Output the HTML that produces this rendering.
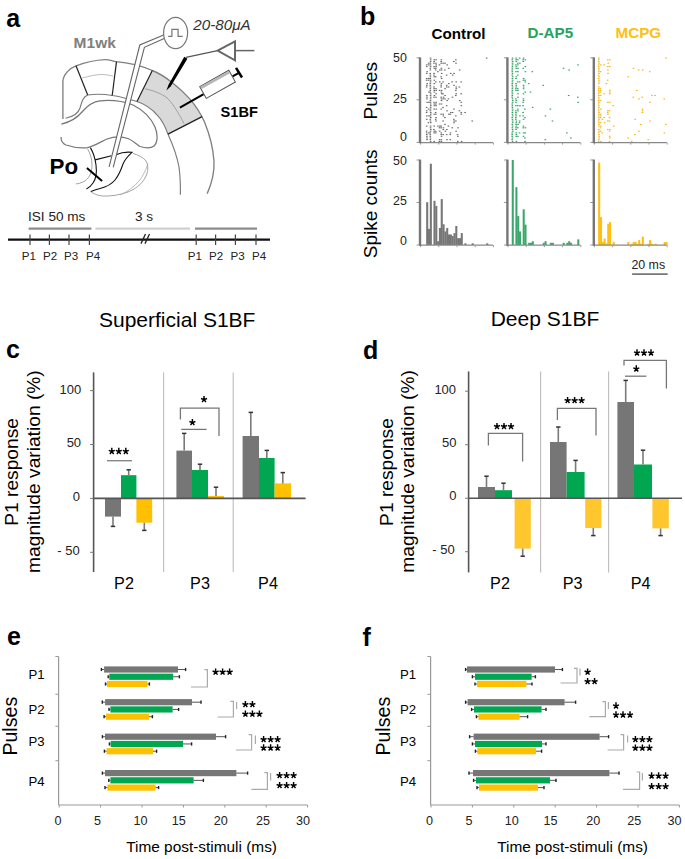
<!DOCTYPE html>
<html><head><meta charset="utf-8"><style>
html,body{margin:0;padding:0;background:#fff;}
svg{display:block;font-family:"Liberation Sans", sans-serif;}
</style></head><body>
<svg width="685" height="859" viewBox="0 0 685 859">
<rect width="685" height="859" fill="#fff"/>
<text x="6.00" y="358.00" font-size="25" font-weight="bold" font-style="normal" fill="#000" text-anchor="start" >c</text>
<text x="99.00" y="327.30" font-size="21" font-weight="normal" font-style="normal" fill="#000" text-anchor="start" >Superficial S1BF</text>
<line x1="93.60" y1="372.40" x2="93.60" y2="572.00" stroke="#555" stroke-width="1.6" />
<line x1="90.10" y1="390.60" x2="93.60" y2="390.60" stroke="#777" stroke-width="1" />
<line x1="90.10" y1="444.50" x2="93.60" y2="444.50" stroke="#777" stroke-width="1" />
<line x1="90.10" y1="498.40" x2="93.60" y2="498.40" stroke="#777" stroke-width="1" />
<line x1="90.10" y1="552.30" x2="93.60" y2="552.30" stroke="#777" stroke-width="1" />
<line x1="163.60" y1="372.40" x2="163.60" y2="572.00" stroke="#bdbdbd" stroke-width="1.1" />
<line x1="233.20" y1="372.40" x2="233.20" y2="572.00" stroke="#bdbdbd" stroke-width="1.1" />
<rect x="105.00" y="498.40" width="16.00" height="18.20" fill="#767676"/>
<line x1="113.00" y1="516.60" x2="113.00" y2="526.40" stroke="#7a7a7a" stroke-width="1.6" />
<line x1="110.80" y1="526.40" x2="115.20" y2="526.40" stroke="#333" stroke-width="1.5" />
<rect x="121.00" y="475.20" width="15.40" height="23.20" fill="#00a650"/>
<line x1="128.70" y1="475.20" x2="128.70" y2="469.80" stroke="#7a7a7a" stroke-width="1.6" />
<line x1="126.50" y1="469.80" x2="130.90" y2="469.80" stroke="#333" stroke-width="1.5" />
<rect x="136.40" y="498.40" width="15.80" height="24.30" fill="#ffc000"/>
<line x1="144.30" y1="522.70" x2="144.30" y2="530.40" stroke="#7a7a7a" stroke-width="1.6" />
<line x1="142.10" y1="530.40" x2="146.50" y2="530.40" stroke="#333" stroke-width="1.5" />
<rect x="176.40" y="450.60" width="15.60" height="47.80" fill="#767676"/>
<line x1="184.20" y1="450.60" x2="184.20" y2="433.40" stroke="#7a7a7a" stroke-width="1.6" />
<line x1="182.00" y1="433.40" x2="186.40" y2="433.40" stroke="#333" stroke-width="1.5" />
<rect x="192.00" y="470.00" width="16.00" height="28.40" fill="#00a650"/>
<line x1="200.00" y1="470.00" x2="200.00" y2="464.20" stroke="#7a7a7a" stroke-width="1.6" />
<line x1="197.80" y1="464.20" x2="202.20" y2="464.20" stroke="#333" stroke-width="1.5" />
<rect x="208.00" y="496.00" width="16.00" height="2.40" fill="#ffc000"/>
<line x1="216.00" y1="496.00" x2="216.00" y2="487.20" stroke="#7a7a7a" stroke-width="1.6" />
<line x1="213.80" y1="487.20" x2="218.20" y2="487.20" stroke="#333" stroke-width="1.5" />
<rect x="242.60" y="436.00" width="16.40" height="62.40" fill="#767676"/>
<line x1="250.80" y1="436.00" x2="250.80" y2="412.40" stroke="#7a7a7a" stroke-width="1.6" />
<line x1="248.60" y1="412.40" x2="253.00" y2="412.40" stroke="#333" stroke-width="1.5" />
<rect x="259.00" y="458.00" width="15.60" height="40.40" fill="#00a650"/>
<line x1="266.80" y1="458.00" x2="266.80" y2="450.40" stroke="#7a7a7a" stroke-width="1.6" />
<line x1="264.60" y1="450.40" x2="269.00" y2="450.40" stroke="#333" stroke-width="1.5" />
<rect x="274.60" y="483.40" width="16.40" height="15.00" fill="#ffc000"/>
<line x1="282.80" y1="483.40" x2="282.80" y2="472.60" stroke="#7a7a7a" stroke-width="1.6" />
<line x1="280.60" y1="472.60" x2="285.00" y2="472.60" stroke="#333" stroke-width="1.5" />
<line x1="93.60" y1="498.40" x2="305.60" y2="498.40" stroke="#555" stroke-width="1.6" />
<text x="81.20" y="394.30" font-size="13" font-weight="normal" font-style="normal" fill="#222" text-anchor="end" >100</text>
<text x="81.10" y="447.20" font-size="13" font-weight="normal" font-style="normal" fill="#222" text-anchor="end" >50</text>
<text x="79.90" y="500.70" font-size="13" font-weight="normal" font-style="normal" fill="#222" text-anchor="end" >0</text>
<text x="79.70" y="554.60" font-size="13" font-weight="normal" font-style="normal" fill="#222" text-anchor="end" >- 50</text>
<text x="114.10" y="589.20" font-size="16.2" font-weight="normal" font-style="normal" fill="#000" text-anchor="start" >P2</text>
<text x="190.10" y="589.20" font-size="16.2" font-weight="normal" font-style="normal" fill="#000" text-anchor="start" >P3</text>
<text x="258.10" y="589.20" font-size="16.2" font-weight="normal" font-style="normal" fill="#000" text-anchor="start" >P4</text>
<g transform="translate(18.2,525.8) rotate(-90)">
<text x="0.00" y="0.00" font-size="19.2" font-weight="normal" font-style="normal" fill="#000" text-anchor="start" >P1 response</text>
</g>
<g transform="translate(39.6,572.9) rotate(-90)">
<text x="0.00" y="0.00" font-size="19.2" font-weight="normal" font-style="normal" fill="#000" text-anchor="start" >magnitude variation (%)</text>
</g>
<line x1="107.00" y1="460.70" x2="132.00" y2="460.70" stroke="#888" stroke-width="1.4" />
<path d="M111.80,451.50 l0,-3.7 M111.80,451.50 l-3.0,-1.15 M111.80,451.50 l3.0,-1.15 M111.80,451.50 l-1.9,2.45 M111.80,451.50 l1.9,2.45" stroke="#000" stroke-width="1.45" fill="none"/>
<path d="M118.80,451.50 l0,-3.7 M118.80,451.50 l-3.0,-1.15 M118.80,451.50 l3.0,-1.15 M118.80,451.50 l-1.9,2.45 M118.80,451.50 l1.9,2.45" stroke="#000" stroke-width="1.45" fill="none"/>
<path d="M125.80,451.50 l0,-3.7 M125.80,451.50 l-3.0,-1.15 M125.80,451.50 l3.0,-1.15 M125.80,451.50 l-1.9,2.45 M125.80,451.50 l1.9,2.45" stroke="#000" stroke-width="1.45" fill="none"/>
<path d="M180.4,419.6 V408.2 H219 V436" stroke="#777" stroke-width="1.3" fill="none" />
<line x1="181.20" y1="429.40" x2="206.60" y2="429.40" stroke="#777" stroke-width="1.3" />
<path d="M204.05,399.60 l0,-3.7 M204.05,399.60 l-3.0,-1.15 M204.05,399.60 l3.0,-1.15 M204.05,399.60 l-1.9,2.45 M204.05,399.60 l1.9,2.45" stroke="#000" stroke-width="1.45" fill="none"/>
<path d="M192.40,422.60 l0,-3.7 M192.40,422.60 l-3.0,-1.15 M192.40,422.60 l3.0,-1.15 M192.40,422.60 l-1.9,2.45 M192.40,422.60 l1.9,2.45" stroke="#000" stroke-width="1.45" fill="none"/>
<text x="363.00" y="359.00" font-size="25" font-weight="bold" font-style="normal" fill="#000" text-anchor="start" >d</text>
<line x1="468.60" y1="371.40" x2="468.60" y2="572.40" stroke="#555" stroke-width="1.6" />
<line x1="465.10" y1="391.20" x2="468.60" y2="391.20" stroke="#777" stroke-width="1" />
<line x1="465.10" y1="444.70" x2="468.60" y2="444.70" stroke="#777" stroke-width="1" />
<line x1="465.10" y1="498.20" x2="468.60" y2="498.20" stroke="#777" stroke-width="1" />
<line x1="465.10" y1="551.70" x2="468.60" y2="551.70" stroke="#777" stroke-width="1" />
<line x1="540.60" y1="371.40" x2="540.60" y2="572.40" stroke="#bdbdbd" stroke-width="1.1" />
<line x1="608.60" y1="371.40" x2="608.60" y2="572.40" stroke="#bdbdbd" stroke-width="1.1" />
<rect x="478.00" y="487.00" width="17.00" height="11.20" fill="#767676"/>
<line x1="486.50" y1="487.00" x2="486.50" y2="476.20" stroke="#7a7a7a" stroke-width="1.6" />
<line x1="484.30" y1="476.20" x2="488.70" y2="476.20" stroke="#333" stroke-width="1.5" />
<rect x="495.00" y="490.20" width="17.00" height="8.00" fill="#00a650"/>
<line x1="503.50" y1="490.20" x2="503.50" y2="483.20" stroke="#7a7a7a" stroke-width="1.6" />
<line x1="501.30" y1="483.20" x2="505.70" y2="483.20" stroke="#333" stroke-width="1.5" />
<rect x="514.60" y="498.20" width="16.20" height="50.40" fill="#ffc62e"/>
<line x1="522.70" y1="548.60" x2="522.70" y2="556.20" stroke="#7a7a7a" stroke-width="1.6" />
<line x1="520.50" y1="556.20" x2="524.90" y2="556.20" stroke="#333" stroke-width="1.5" />
<rect x="550.00" y="442.00" width="16.60" height="56.20" fill="#767676"/>
<line x1="558.30" y1="442.00" x2="558.30" y2="427.00" stroke="#7a7a7a" stroke-width="1.6" />
<line x1="556.10" y1="427.00" x2="560.50" y2="427.00" stroke="#333" stroke-width="1.5" />
<rect x="566.60" y="472.00" width="18.00" height="26.20" fill="#00a650"/>
<line x1="575.60" y1="472.00" x2="575.60" y2="460.40" stroke="#7a7a7a" stroke-width="1.6" />
<line x1="573.40" y1="460.40" x2="577.80" y2="460.40" stroke="#333" stroke-width="1.5" />
<rect x="585.20" y="498.20" width="16.20" height="29.80" fill="#ffc62e"/>
<line x1="593.30" y1="528.00" x2="593.30" y2="535.60" stroke="#7a7a7a" stroke-width="1.6" />
<line x1="591.10" y1="535.60" x2="595.50" y2="535.60" stroke="#333" stroke-width="1.5" />
<rect x="617.40" y="402.00" width="16.60" height="96.20" fill="#767676"/>
<line x1="625.70" y1="402.00" x2="625.70" y2="380.40" stroke="#7a7a7a" stroke-width="1.6" />
<line x1="623.50" y1="380.40" x2="627.90" y2="380.40" stroke="#333" stroke-width="1.5" />
<rect x="634.00" y="464.50" width="18.00" height="33.70" fill="#00a650"/>
<line x1="643.00" y1="464.50" x2="643.00" y2="450.20" stroke="#7a7a7a" stroke-width="1.6" />
<line x1="640.80" y1="450.20" x2="645.20" y2="450.20" stroke="#333" stroke-width="1.5" />
<rect x="652.40" y="498.20" width="16.40" height="30.20" fill="#ffc62e"/>
<line x1="660.60" y1="528.40" x2="660.60" y2="535.60" stroke="#7a7a7a" stroke-width="1.6" />
<line x1="658.40" y1="535.60" x2="662.80" y2="535.60" stroke="#333" stroke-width="1.5" />
<line x1="468.60" y1="498.20" x2="682.00" y2="498.20" stroke="#555" stroke-width="1.6" />
<text x="456.10" y="394.00" font-size="13" font-weight="normal" font-style="normal" fill="#222" text-anchor="end" >100</text>
<text x="456.40" y="447.10" font-size="13" font-weight="normal" font-style="normal" fill="#222" text-anchor="end" >50</text>
<text x="456.40" y="500.30" font-size="13" font-weight="normal" font-style="normal" fill="#222" text-anchor="end" >0</text>
<text x="454.70" y="554.00" font-size="13" font-weight="normal" font-style="normal" fill="#222" text-anchor="end" >- 50</text>
<text x="490.10" y="589.20" font-size="16.2" font-weight="normal" font-style="normal" fill="#000" text-anchor="start" >P2</text>
<text x="562.70" y="589.20" font-size="16.2" font-weight="normal" font-style="normal" fill="#000" text-anchor="start" >P3</text>
<text x="630.70" y="589.20" font-size="16.2" font-weight="normal" font-style="normal" fill="#000" text-anchor="start" >P4</text>
<g transform="translate(392.8,525.9) rotate(-90)">
<text x="0.00" y="0.00" font-size="19.2" font-weight="normal" font-style="normal" fill="#000" text-anchor="start" >P1 response</text>
</g>
<g transform="translate(413.6,572.7) rotate(-90)">
<text x="0.00" y="0.00" font-size="19.2" font-weight="normal" font-style="normal" fill="#000" text-anchor="start" >magnitude variation (%)</text>
</g>
<path d="M488.4,445.6 V433.4 H522.6 V461.4" stroke="#777" stroke-width="1.3" fill="none" />
<path d="M497.00,426.60 l0,-3.7 M497.00,426.60 l-3.0,-1.15 M497.00,426.60 l3.0,-1.15 M497.00,426.60 l-1.9,2.45 M497.00,426.60 l1.9,2.45" stroke="#000" stroke-width="1.45" fill="none"/>
<path d="M504.00,426.60 l0,-3.7 M504.00,426.60 l-3.0,-1.15 M504.00,426.60 l3.0,-1.15 M504.00,426.60 l-1.9,2.45 M504.00,426.60 l1.9,2.45" stroke="#000" stroke-width="1.45" fill="none"/>
<path d="M511.00,426.60 l0,-3.7 M511.00,426.60 l-3.0,-1.15 M511.00,426.60 l3.0,-1.15 M511.00,426.60 l-1.9,2.45 M511.00,426.60 l1.9,2.45" stroke="#000" stroke-width="1.45" fill="none"/>
<path d="M557.4,420 V408.4 H596 V435.6" stroke="#777" stroke-width="1.3" fill="none" />
<path d="M567.60,400.60 l0,-3.7 M567.60,400.60 l-3.0,-1.15 M567.60,400.60 l3.0,-1.15 M567.60,400.60 l-1.9,2.45 M567.60,400.60 l1.9,2.45" stroke="#000" stroke-width="1.45" fill="none"/>
<path d="M574.60,400.60 l0,-3.7 M574.60,400.60 l-3.0,-1.15 M574.60,400.60 l3.0,-1.15 M574.60,400.60 l-1.9,2.45 M574.60,400.60 l1.9,2.45" stroke="#000" stroke-width="1.45" fill="none"/>
<path d="M581.60,400.60 l0,-3.7 M581.60,400.60 l-3.0,-1.15 M581.60,400.60 l3.0,-1.15 M581.60,400.60 l-1.9,2.45 M581.60,400.60 l1.9,2.45" stroke="#000" stroke-width="1.45" fill="none"/>
<path d="M624,365.6 V360.4 H666.4 V388.4" stroke="#777" stroke-width="1.3" fill="none" />
<line x1="625.00" y1="376.20" x2="646.40" y2="376.20" stroke="#777" stroke-width="1.3" />
<path d="M637.00,353.00 l0,-3.7 M637.00,353.00 l-3.0,-1.15 M637.00,353.00 l3.0,-1.15 M637.00,353.00 l-1.9,2.45 M637.00,353.00 l1.9,2.45" stroke="#000" stroke-width="1.45" fill="none"/>
<path d="M644.00,353.00 l0,-3.7 M644.00,353.00 l-3.0,-1.15 M644.00,353.00 l3.0,-1.15 M644.00,353.00 l-1.9,2.45 M644.00,353.00 l1.9,2.45" stroke="#000" stroke-width="1.45" fill="none"/>
<path d="M651.00,353.00 l0,-3.7 M651.00,353.00 l-3.0,-1.15 M651.00,353.00 l3.0,-1.15 M651.00,353.00 l-1.9,2.45 M651.00,353.00 l1.9,2.45" stroke="#000" stroke-width="1.45" fill="none"/>
<path d="M636.30,369.00 l0,-3.7 M636.30,369.00 l-3.0,-1.15 M636.30,369.00 l3.0,-1.15 M636.30,369.00 l-1.9,2.45 M636.30,369.00 l1.9,2.45" stroke="#000" stroke-width="1.45" fill="none"/>
<text x="490.70" y="326.20" font-size="21" font-weight="normal" font-style="normal" fill="#000" text-anchor="start" >Deep S1BF</text>
<text x="7.00" y="645.00" font-size="25" font-weight="bold" font-style="normal" fill="#000" text-anchor="start" >e</text>
<line x1="58.60" y1="656.50" x2="58.60" y2="805.00" stroke="#999" stroke-width="1.2" />
<line x1="55.40" y1="656.50" x2="58.60" y2="656.50" stroke="#999" stroke-width="1" />
<line x1="55.40" y1="694.30" x2="58.60" y2="694.30" stroke="#999" stroke-width="1" />
<line x1="55.40" y1="726.30" x2="58.60" y2="726.30" stroke="#999" stroke-width="1" />
<line x1="55.40" y1="760.70" x2="58.60" y2="760.70" stroke="#999" stroke-width="1" />
<line x1="58.60" y1="805.00" x2="307.60" y2="805.00" stroke="#999" stroke-width="1.2" />
<line x1="59.20" y1="805.00" x2="59.20" y2="807.50" stroke="#999" stroke-width="1" />
<line x1="100.60" y1="805.00" x2="100.60" y2="807.50" stroke="#999" stroke-width="1" />
<line x1="142.00" y1="805.00" x2="142.00" y2="807.50" stroke="#999" stroke-width="1" />
<line x1="183.40" y1="805.00" x2="183.40" y2="807.50" stroke="#999" stroke-width="1" />
<line x1="224.80" y1="805.00" x2="224.80" y2="807.50" stroke="#999" stroke-width="1" />
<line x1="266.20" y1="805.00" x2="266.20" y2="807.50" stroke="#999" stroke-width="1" />
<line x1="307.60" y1="805.00" x2="307.60" y2="807.50" stroke="#999" stroke-width="1" />
<rect x="104.10" y="666.40" width="73.90" height="6.20" fill="#767676"/>
<line x1="101.40" y1="669.50" x2="104.10" y2="669.50" stroke="#555" stroke-width="1" />
<line x1="178.00" y1="669.50" x2="185.60" y2="669.50" stroke="#555" stroke-width="1" />
<line x1="101.40" y1="667.90" x2="101.40" y2="671.10" stroke="#222" stroke-width="1.4" />
<line x1="185.60" y1="667.90" x2="185.60" y2="671.10" stroke="#222" stroke-width="1.4" />
<rect x="109.30" y="673.65" width="63.90" height="6.20" fill="#00a650"/>
<line x1="108.20" y1="676.75" x2="109.30" y2="676.75" stroke="#555" stroke-width="1" />
<line x1="173.20" y1="676.75" x2="179.40" y2="676.75" stroke="#555" stroke-width="1" />
<line x1="108.20" y1="675.15" x2="108.20" y2="678.35" stroke="#222" stroke-width="1.4" />
<line x1="179.40" y1="675.15" x2="179.40" y2="678.35" stroke="#222" stroke-width="1.4" />
<rect x="107.00" y="680.90" width="40.40" height="6.20" fill="#ffc000"/>
<line x1="105.50" y1="684.00" x2="107.00" y2="684.00" stroke="#555" stroke-width="1" />
<line x1="147.40" y1="684.00" x2="149.40" y2="684.00" stroke="#555" stroke-width="1" />
<line x1="105.50" y1="682.40" x2="105.50" y2="685.60" stroke="#222" stroke-width="1.4" />
<line x1="149.40" y1="682.40" x2="149.40" y2="685.60" stroke="#222" stroke-width="1.4" />
<rect x="105.10" y="699.10" width="86.90" height="6.20" fill="#767676"/>
<line x1="102.30" y1="702.20" x2="105.10" y2="702.20" stroke="#555" stroke-width="1" />
<line x1="192.00" y1="702.20" x2="201.00" y2="702.20" stroke="#555" stroke-width="1" />
<line x1="102.30" y1="700.60" x2="102.30" y2="703.80" stroke="#222" stroke-width="1.4" />
<line x1="201.00" y1="700.60" x2="201.00" y2="703.80" stroke="#222" stroke-width="1.4" />
<rect x="110.40" y="706.35" width="62.20" height="6.20" fill="#00a650"/>
<line x1="109.00" y1="709.45" x2="110.40" y2="709.45" stroke="#555" stroke-width="1" />
<line x1="172.60" y1="709.45" x2="178.60" y2="709.45" stroke="#555" stroke-width="1" />
<line x1="109.00" y1="707.85" x2="109.00" y2="711.05" stroke="#222" stroke-width="1.4" />
<line x1="178.60" y1="707.85" x2="178.60" y2="711.05" stroke="#222" stroke-width="1.4" />
<rect x="106.00" y="713.60" width="43.00" height="6.20" fill="#ffc000"/>
<line x1="104.10" y1="716.70" x2="106.00" y2="716.70" stroke="#555" stroke-width="1" />
<line x1="149.00" y1="716.70" x2="152.40" y2="716.70" stroke="#555" stroke-width="1" />
<line x1="104.10" y1="715.10" x2="104.10" y2="718.30" stroke="#222" stroke-width="1.4" />
<line x1="152.40" y1="715.10" x2="152.40" y2="718.30" stroke="#222" stroke-width="1.4" />
<rect x="105.00" y="733.60" width="111.00" height="6.20" fill="#767676"/>
<line x1="102.40" y1="736.70" x2="105.00" y2="736.70" stroke="#555" stroke-width="1" />
<line x1="216.00" y1="736.70" x2="225.60" y2="736.70" stroke="#555" stroke-width="1" />
<line x1="102.40" y1="735.10" x2="102.40" y2="738.30" stroke="#222" stroke-width="1.4" />
<line x1="225.60" y1="735.10" x2="225.60" y2="738.30" stroke="#222" stroke-width="1.4" />
<rect x="110.60" y="740.85" width="72.40" height="6.20" fill="#00a650"/>
<line x1="109.40" y1="743.95" x2="110.60" y2="743.95" stroke="#555" stroke-width="1" />
<line x1="183.00" y1="743.95" x2="191.60" y2="743.95" stroke="#555" stroke-width="1" />
<line x1="109.40" y1="742.35" x2="109.40" y2="745.55" stroke="#222" stroke-width="1.4" />
<line x1="191.60" y1="742.35" x2="191.60" y2="745.55" stroke="#222" stroke-width="1.4" />
<rect x="106.60" y="748.10" width="46.40" height="6.20" fill="#ffc000"/>
<line x1="104.40" y1="751.20" x2="106.60" y2="751.20" stroke="#555" stroke-width="1" />
<line x1="153.00" y1="751.20" x2="156.60" y2="751.20" stroke="#555" stroke-width="1" />
<line x1="104.40" y1="749.60" x2="104.40" y2="752.80" stroke="#222" stroke-width="1.4" />
<line x1="156.60" y1="749.60" x2="156.60" y2="752.80" stroke="#222" stroke-width="1.4" />
<rect x="105.00" y="770.00" width="131.40" height="6.20" fill="#767676"/>
<line x1="102.40" y1="773.10" x2="105.00" y2="773.10" stroke="#555" stroke-width="1" />
<line x1="236.40" y1="773.10" x2="247.60" y2="773.10" stroke="#555" stroke-width="1" />
<line x1="102.40" y1="771.50" x2="102.40" y2="774.70" stroke="#222" stroke-width="1.4" />
<line x1="247.60" y1="771.50" x2="247.60" y2="774.70" stroke="#222" stroke-width="1.4" />
<rect x="110.40" y="777.25" width="83.20" height="6.20" fill="#00a650"/>
<line x1="108.80" y1="780.35" x2="110.40" y2="780.35" stroke="#555" stroke-width="1" />
<line x1="193.60" y1="780.35" x2="203.40" y2="780.35" stroke="#555" stroke-width="1" />
<line x1="108.80" y1="778.75" x2="108.80" y2="781.95" stroke="#222" stroke-width="1.4" />
<line x1="203.40" y1="778.75" x2="203.40" y2="781.95" stroke="#222" stroke-width="1.4" />
<rect x="107.40" y="784.50" width="48.20" height="6.20" fill="#ffc000"/>
<line x1="105.00" y1="787.60" x2="107.40" y2="787.60" stroke="#555" stroke-width="1" />
<line x1="155.60" y1="787.60" x2="158.60" y2="787.60" stroke="#555" stroke-width="1" />
<line x1="105.00" y1="786.00" x2="105.00" y2="789.20" stroke="#222" stroke-width="1.4" />
<line x1="158.60" y1="786.00" x2="158.60" y2="789.20" stroke="#222" stroke-width="1.4" />
<path d="M204.40,669.60 H207.40 V687.00 H191.00" stroke="#aaa" stroke-width="1.2" fill="none" />
<path d="M230.40,701.40 H233.40 V717.00 H217.60" stroke="#aaa" stroke-width="1.2" fill="none" />
<line x1="236.60" y1="702.00" x2="236.60" y2="709.00" stroke="#aaa" stroke-width="1.2" />
<path d="M248.60,734.60 H251.60 V750.00 H236.00" stroke="#aaa" stroke-width="1.2" fill="none" />
<line x1="255.40" y1="735.40" x2="255.40" y2="744.00" stroke="#aaa" stroke-width="1.2" />
<path d="M264.40,772.60 H267.40 V789.40 H251.40" stroke="#aaa" stroke-width="1.2" fill="none" />
<line x1="270.60" y1="773.00" x2="270.60" y2="780.40" stroke="#aaa" stroke-width="1.2" />
<path d="M215.60,672.20 l0,-3.7 M215.60,672.20 l-3.0,-1.15 M215.60,672.20 l3.0,-1.15 M215.60,672.20 l-1.9,2.45 M215.60,672.20 l1.9,2.45" stroke="#000" stroke-width="1.45" fill="none"/>
<path d="M222.60,672.20 l0,-3.7 M222.60,672.20 l-3.0,-1.15 M222.60,672.20 l3.0,-1.15 M222.60,672.20 l-1.9,2.45 M222.60,672.20 l1.9,2.45" stroke="#000" stroke-width="1.45" fill="none"/>
<path d="M229.60,672.20 l0,-3.7 M229.60,672.20 l-3.0,-1.15 M229.60,672.20 l3.0,-1.15 M229.60,672.20 l-1.9,2.45 M229.60,672.20 l1.9,2.45" stroke="#000" stroke-width="1.45" fill="none"/>
<path d="M245.40,704.60 l0,-3.7 M245.40,704.60 l-3.0,-1.15 M245.40,704.60 l3.0,-1.15 M245.40,704.60 l-1.9,2.45 M245.40,704.60 l1.9,2.45" stroke="#000" stroke-width="1.45" fill="none"/>
<path d="M252.40,704.60 l0,-3.7 M252.40,704.60 l-3.0,-1.15 M252.40,704.60 l3.0,-1.15 M252.40,704.60 l-1.9,2.45 M252.40,704.60 l1.9,2.45" stroke="#000" stroke-width="1.45" fill="none"/>
<path d="M245.40,714.20 l0,-3.7 M245.40,714.20 l-3.0,-1.15 M245.40,714.20 l3.0,-1.15 M245.40,714.20 l-1.9,2.45 M245.40,714.20 l1.9,2.45" stroke="#000" stroke-width="1.45" fill="none"/>
<path d="M252.40,714.20 l0,-3.7 M252.40,714.20 l-3.0,-1.15 M252.40,714.20 l3.0,-1.15 M252.40,714.20 l-1.9,2.45 M252.40,714.20 l1.9,2.45" stroke="#000" stroke-width="1.45" fill="none"/>
<path d="M259.40,714.20 l0,-3.7 M259.40,714.20 l-3.0,-1.15 M259.40,714.20 l3.0,-1.15 M259.40,714.20 l-1.9,2.45 M259.40,714.20 l1.9,2.45" stroke="#000" stroke-width="1.45" fill="none"/>
<path d="M263.60,739.60 l0,-3.7 M263.60,739.60 l-3.0,-1.15 M263.60,739.60 l3.0,-1.15 M263.60,739.60 l-1.9,2.45 M263.60,739.60 l1.9,2.45" stroke="#000" stroke-width="1.45" fill="none"/>
<path d="M270.60,739.60 l0,-3.7 M270.60,739.60 l-3.0,-1.15 M270.60,739.60 l3.0,-1.15 M270.60,739.60 l-1.9,2.45 M270.60,739.60 l1.9,2.45" stroke="#000" stroke-width="1.45" fill="none"/>
<path d="M277.60,739.60 l0,-3.7 M277.60,739.60 l-3.0,-1.15 M277.60,739.60 l3.0,-1.15 M277.60,739.60 l-1.9,2.45 M277.60,739.60 l1.9,2.45" stroke="#000" stroke-width="1.45" fill="none"/>
<path d="M263.60,748.00 l0,-3.7 M263.60,748.00 l-3.0,-1.15 M263.60,748.00 l3.0,-1.15 M263.60,748.00 l-1.9,2.45 M263.60,748.00 l1.9,2.45" stroke="#000" stroke-width="1.45" fill="none"/>
<path d="M270.60,748.00 l0,-3.7 M270.60,748.00 l-3.0,-1.15 M270.60,748.00 l3.0,-1.15 M270.60,748.00 l-1.9,2.45 M270.60,748.00 l1.9,2.45" stroke="#000" stroke-width="1.45" fill="none"/>
<path d="M277.60,748.00 l0,-3.7 M277.60,748.00 l-3.0,-1.15 M277.60,748.00 l3.0,-1.15 M277.60,748.00 l-1.9,2.45 M277.60,748.00 l1.9,2.45" stroke="#000" stroke-width="1.45" fill="none"/>
<path d="M279.60,775.60 l0,-3.7 M279.60,775.60 l-3.0,-1.15 M279.60,775.60 l3.0,-1.15 M279.60,775.60 l-1.9,2.45 M279.60,775.60 l1.9,2.45" stroke="#000" stroke-width="1.45" fill="none"/>
<path d="M286.60,775.60 l0,-3.7 M286.60,775.60 l-3.0,-1.15 M286.60,775.60 l3.0,-1.15 M286.60,775.60 l-1.9,2.45 M286.60,775.60 l1.9,2.45" stroke="#000" stroke-width="1.45" fill="none"/>
<path d="M293.60,775.60 l0,-3.7 M293.60,775.60 l-3.0,-1.15 M293.60,775.60 l3.0,-1.15 M293.60,775.60 l-1.9,2.45 M293.60,775.60 l1.9,2.45" stroke="#000" stroke-width="1.45" fill="none"/>
<path d="M279.60,785.60 l0,-3.7 M279.60,785.60 l-3.0,-1.15 M279.60,785.60 l3.0,-1.15 M279.60,785.60 l-1.9,2.45 M279.60,785.60 l1.9,2.45" stroke="#000" stroke-width="1.45" fill="none"/>
<path d="M286.60,785.60 l0,-3.7 M286.60,785.60 l-3.0,-1.15 M286.60,785.60 l3.0,-1.15 M286.60,785.60 l-1.9,2.45 M286.60,785.60 l1.9,2.45" stroke="#000" stroke-width="1.45" fill="none"/>
<path d="M293.60,785.60 l0,-3.7 M293.60,785.60 l-3.0,-1.15 M293.60,785.60 l3.0,-1.15 M293.60,785.60 l-1.9,2.45 M293.60,785.60 l1.9,2.45" stroke="#000" stroke-width="1.45" fill="none"/>
<text x="28.50" y="678.60" font-size="13.2" font-weight="normal" font-style="normal" fill="#000" text-anchor="start" >P1</text>
<text x="28.50" y="714.00" font-size="13.2" font-weight="normal" font-style="normal" fill="#000" text-anchor="start" >P2</text>
<text x="28.50" y="746.20" font-size="13.2" font-weight="normal" font-style="normal" fill="#000" text-anchor="start" >P3</text>
<text x="28.50" y="786.00" font-size="13.2" font-weight="normal" font-style="normal" fill="#000" text-anchor="start" >P4</text>
<g transform="translate(17.2,754) rotate(-90)">
<text x="-1.60" y="0.00" font-size="19.6" font-weight="normal" font-style="normal" fill="#000" text-anchor="start" >Pulses</text>
</g>
<text x="54.61" y="824.50" font-size="12.6" font-weight="normal" font-style="normal" fill="#222" text-anchor="start" >0</text>
<text x="94.10" y="824.50" font-size="12.6" font-weight="normal" font-style="normal" fill="#222" text-anchor="start" >5</text>
<text x="133.44" y="824.50" font-size="12.6" font-weight="normal" font-style="normal" fill="#222" text-anchor="start" >10</text>
<text x="171.64" y="824.50" font-size="12.6" font-weight="normal" font-style="normal" fill="#222" text-anchor="start" >15</text>
<text x="213.67" y="824.50" font-size="12.6" font-weight="normal" font-style="normal" fill="#222" text-anchor="start" >20</text>
<text x="255.97" y="824.50" font-size="12.6" font-weight="normal" font-style="normal" fill="#222" text-anchor="start" >25</text>
<text x="296.02" y="824.50" font-size="12.6" font-weight="normal" font-style="normal" fill="#222" text-anchor="start" >30</text>
<text x="126.20" y="852.40" font-size="15.4" font-weight="normal" font-style="normal" fill="#000" text-anchor="start" >Time post-stimuli (ms)</text>
<text x="362.60" y="645.60" font-size="25" font-weight="bold" font-style="normal" fill="#000" text-anchor="start" >f</text>
<line x1="430.60" y1="656.50" x2="430.60" y2="805.00" stroke="#999" stroke-width="1.2" />
<line x1="427.40" y1="656.50" x2="430.60" y2="656.50" stroke="#999" stroke-width="1" />
<line x1="427.40" y1="694.30" x2="430.60" y2="694.30" stroke="#999" stroke-width="1" />
<line x1="427.40" y1="726.30" x2="430.60" y2="726.30" stroke="#999" stroke-width="1" />
<line x1="427.40" y1="760.70" x2="430.60" y2="760.70" stroke="#999" stroke-width="1" />
<line x1="430.60" y1="805.00" x2="679.40" y2="805.00" stroke="#999" stroke-width="1.2" />
<line x1="431.00" y1="805.00" x2="431.00" y2="807.50" stroke="#999" stroke-width="1" />
<line x1="472.40" y1="805.00" x2="472.40" y2="807.50" stroke="#999" stroke-width="1" />
<line x1="513.80" y1="805.00" x2="513.80" y2="807.50" stroke="#999" stroke-width="1" />
<line x1="555.20" y1="805.00" x2="555.20" y2="807.50" stroke="#999" stroke-width="1" />
<line x1="596.60" y1="805.00" x2="596.60" y2="807.50" stroke="#999" stroke-width="1" />
<line x1="638.00" y1="805.00" x2="638.00" y2="807.50" stroke="#999" stroke-width="1" />
<line x1="679.40" y1="805.00" x2="679.40" y2="807.50" stroke="#999" stroke-width="1" />
<rect x="467.00" y="666.40" width="88.00" height="6.20" fill="#767676"/>
<line x1="465.60" y1="669.50" x2="467.00" y2="669.50" stroke="#555" stroke-width="1" />
<line x1="555.00" y1="669.50" x2="562.40" y2="669.50" stroke="#555" stroke-width="1" />
<line x1="465.60" y1="667.90" x2="465.60" y2="671.10" stroke="#222" stroke-width="1.4" />
<line x1="562.40" y1="667.90" x2="562.40" y2="671.10" stroke="#222" stroke-width="1.4" />
<rect x="475.00" y="673.65" width="56.60" height="6.20" fill="#00a650"/>
<line x1="472.40" y1="676.75" x2="475.00" y2="676.75" stroke="#555" stroke-width="1" />
<line x1="531.60" y1="676.75" x2="535.40" y2="676.75" stroke="#555" stroke-width="1" />
<line x1="472.40" y1="675.15" x2="472.40" y2="678.35" stroke="#222" stroke-width="1.4" />
<line x1="535.40" y1="675.15" x2="535.40" y2="678.35" stroke="#222" stroke-width="1.4" />
<rect x="477.00" y="680.90" width="49.40" height="6.20" fill="#ffc000"/>
<line x1="475.00" y1="684.00" x2="477.00" y2="684.00" stroke="#555" stroke-width="1" />
<line x1="526.40" y1="684.00" x2="532.00" y2="684.00" stroke="#555" stroke-width="1" />
<line x1="475.00" y1="682.40" x2="475.00" y2="685.60" stroke="#222" stroke-width="1.4" />
<line x1="532.00" y1="682.40" x2="532.00" y2="685.60" stroke="#222" stroke-width="1.4" />
<rect x="467.60" y="699.10" width="97.00" height="6.20" fill="#767676"/>
<line x1="465.60" y1="702.20" x2="467.60" y2="702.20" stroke="#555" stroke-width="1" />
<line x1="564.60" y1="702.20" x2="575.60" y2="702.20" stroke="#555" stroke-width="1" />
<line x1="465.60" y1="700.60" x2="465.60" y2="703.80" stroke="#222" stroke-width="1.4" />
<line x1="575.60" y1="700.60" x2="575.60" y2="703.80" stroke="#222" stroke-width="1.4" />
<rect x="474.00" y="706.35" width="67.60" height="6.20" fill="#00a650"/>
<line x1="471.60" y1="709.45" x2="474.00" y2="709.45" stroke="#555" stroke-width="1" />
<line x1="541.60" y1="709.45" x2="546.00" y2="709.45" stroke="#555" stroke-width="1" />
<line x1="471.60" y1="707.85" x2="471.60" y2="711.05" stroke="#222" stroke-width="1.4" />
<line x1="546.00" y1="707.85" x2="546.00" y2="711.05" stroke="#222" stroke-width="1.4" />
<rect x="478.40" y="713.60" width="41.20" height="6.20" fill="#ffc000"/>
<line x1="476.40" y1="716.70" x2="478.40" y2="716.70" stroke="#555" stroke-width="1" />
<line x1="519.60" y1="716.70" x2="527.60" y2="716.70" stroke="#555" stroke-width="1" />
<line x1="476.40" y1="715.10" x2="476.40" y2="718.30" stroke="#222" stroke-width="1.4" />
<line x1="527.60" y1="715.10" x2="527.60" y2="718.30" stroke="#222" stroke-width="1.4" />
<rect x="473.60" y="733.60" width="126.00" height="6.20" fill="#767676"/>
<line x1="469.60" y1="736.70" x2="473.60" y2="736.70" stroke="#555" stroke-width="1" />
<line x1="599.60" y1="736.70" x2="608.60" y2="736.70" stroke="#555" stroke-width="1" />
<line x1="469.60" y1="735.10" x2="469.60" y2="738.30" stroke="#222" stroke-width="1.4" />
<line x1="608.60" y1="735.10" x2="608.60" y2="738.30" stroke="#222" stroke-width="1.4" />
<rect x="475.00" y="740.85" width="67.00" height="6.20" fill="#00a650"/>
<line x1="472.40" y1="743.95" x2="475.00" y2="743.95" stroke="#555" stroke-width="1" />
<line x1="542.00" y1="743.95" x2="546.00" y2="743.95" stroke="#555" stroke-width="1" />
<line x1="472.40" y1="742.35" x2="472.40" y2="745.55" stroke="#222" stroke-width="1.4" />
<line x1="546.00" y1="742.35" x2="546.00" y2="745.55" stroke="#222" stroke-width="1.4" />
<rect x="477.40" y="748.10" width="58.60" height="6.20" fill="#ffc000"/>
<line x1="475.40" y1="751.20" x2="477.40" y2="751.20" stroke="#555" stroke-width="1" />
<line x1="536.00" y1="751.20" x2="541.60" y2="751.20" stroke="#555" stroke-width="1" />
<line x1="475.40" y1="749.60" x2="475.40" y2="752.80" stroke="#222" stroke-width="1.4" />
<line x1="541.60" y1="749.60" x2="541.60" y2="752.80" stroke="#222" stroke-width="1.4" />
<rect x="473.00" y="770.00" width="136.40" height="6.20" fill="#767676"/>
<line x1="469.00" y1="773.10" x2="473.00" y2="773.10" stroke="#555" stroke-width="1" />
<line x1="609.40" y1="773.10" x2="619.00" y2="773.10" stroke="#555" stroke-width="1" />
<line x1="469.00" y1="771.50" x2="469.00" y2="774.70" stroke="#222" stroke-width="1.4" />
<line x1="619.00" y1="771.50" x2="619.00" y2="774.70" stroke="#222" stroke-width="1.4" />
<rect x="476.00" y="777.25" width="74.00" height="6.20" fill="#00a650"/>
<line x1="473.60" y1="780.35" x2="476.00" y2="780.35" stroke="#555" stroke-width="1" />
<line x1="550.00" y1="780.35" x2="556.00" y2="780.35" stroke="#555" stroke-width="1" />
<line x1="473.60" y1="778.75" x2="473.60" y2="781.95" stroke="#222" stroke-width="1.4" />
<line x1="556.00" y1="778.75" x2="556.00" y2="781.95" stroke="#222" stroke-width="1.4" />
<rect x="479.00" y="784.50" width="59.00" height="6.20" fill="#ffc000"/>
<line x1="477.00" y1="787.60" x2="479.00" y2="787.60" stroke="#555" stroke-width="1" />
<line x1="538.00" y1="787.60" x2="544.00" y2="787.60" stroke="#555" stroke-width="1" />
<line x1="477.00" y1="786.00" x2="477.00" y2="789.20" stroke="#222" stroke-width="1.4" />
<line x1="544.00" y1="786.00" x2="544.00" y2="789.20" stroke="#222" stroke-width="1.4" />
<path d="M574.00,668.40 H577.00 V683.00 H560.60" stroke="#aaa" stroke-width="1.2" fill="none" />
<line x1="580.00" y1="668.40" x2="580.00" y2="675.60" stroke="#aaa" stroke-width="1.2" />
<path d="M602.40,701.60 H605.40 V716.60 H589.40" stroke="#aaa" stroke-width="1.2" fill="none" />
<line x1="608.40" y1="702.00" x2="608.40" y2="709.00" stroke="#aaa" stroke-width="1.2" />
<path d="M620.60,734.60 H623.60 V750.00 H607.60" stroke="#aaa" stroke-width="1.2" fill="none" />
<line x1="627.60" y1="735.60" x2="627.60" y2="742.40" stroke="#aaa" stroke-width="1.2" />
<path d="M636.60,772.00 H639.60 V789.40 H623.00" stroke="#aaa" stroke-width="1.2" fill="none" />
<line x1="642.40" y1="773.00" x2="642.40" y2="780.60" stroke="#aaa" stroke-width="1.2" />
<path d="M587.60,672.20 l0,-3.7 M587.60,672.20 l-3.0,-1.15 M587.60,672.20 l3.0,-1.15 M587.60,672.20 l-1.9,2.45 M587.60,672.20 l1.9,2.45" stroke="#000" stroke-width="1.45" fill="none"/>
<path d="M587.60,681.60 l0,-3.7 M587.60,681.60 l-3.0,-1.15 M587.60,681.60 l3.0,-1.15 M587.60,681.60 l-1.9,2.45 M587.60,681.60 l1.9,2.45" stroke="#000" stroke-width="1.45" fill="none"/>
<path d="M594.60,681.60 l0,-3.7 M594.60,681.60 l-3.0,-1.15 M594.60,681.60 l3.0,-1.15 M594.60,681.60 l-1.9,2.45 M594.60,681.60 l1.9,2.45" stroke="#000" stroke-width="1.45" fill="none"/>
<path d="M616.00,706.00 l0,-3.7 M616.00,706.00 l-3.0,-1.15 M616.00,706.00 l3.0,-1.15 M616.00,706.00 l-1.9,2.45 M616.00,706.00 l1.9,2.45" stroke="#000" stroke-width="1.45" fill="none"/>
<path d="M616.00,715.00 l0,-3.7 M616.00,715.00 l-3.0,-1.15 M616.00,715.00 l3.0,-1.15 M616.00,715.00 l-1.9,2.45 M616.00,715.00 l1.9,2.45" stroke="#000" stroke-width="1.45" fill="none"/>
<path d="M623.00,715.00 l0,-3.7 M623.00,715.00 l-3.0,-1.15 M623.00,715.00 l3.0,-1.15 M623.00,715.00 l-1.9,2.45 M623.00,715.00 l1.9,2.45" stroke="#000" stroke-width="1.45" fill="none"/>
<path d="M630.00,715.00 l0,-3.7 M630.00,715.00 l-3.0,-1.15 M630.00,715.00 l3.0,-1.15 M630.00,715.00 l-1.9,2.45 M630.00,715.00 l1.9,2.45" stroke="#000" stroke-width="1.45" fill="none"/>
<path d="M635.40,739.60 l0,-3.7 M635.40,739.60 l-3.0,-1.15 M635.40,739.60 l3.0,-1.15 M635.40,739.60 l-1.9,2.45 M635.40,739.60 l1.9,2.45" stroke="#000" stroke-width="1.45" fill="none"/>
<path d="M642.40,739.60 l0,-3.7 M642.40,739.60 l-3.0,-1.15 M642.40,739.60 l3.0,-1.15 M642.40,739.60 l-1.9,2.45 M642.40,739.60 l1.9,2.45" stroke="#000" stroke-width="1.45" fill="none"/>
<path d="M649.40,739.60 l0,-3.7 M649.40,739.60 l-3.0,-1.15 M649.40,739.60 l3.0,-1.15 M649.40,739.60 l-1.9,2.45 M649.40,739.60 l1.9,2.45" stroke="#000" stroke-width="1.45" fill="none"/>
<path d="M635.40,748.20 l0,-3.7 M635.40,748.20 l-3.0,-1.15 M635.40,748.20 l3.0,-1.15 M635.40,748.20 l-1.9,2.45 M635.40,748.20 l1.9,2.45" stroke="#000" stroke-width="1.45" fill="none"/>
<path d="M642.40,748.20 l0,-3.7 M642.40,748.20 l-3.0,-1.15 M642.40,748.20 l3.0,-1.15 M642.40,748.20 l-1.9,2.45 M642.40,748.20 l1.9,2.45" stroke="#000" stroke-width="1.45" fill="none"/>
<path d="M649.40,748.20 l0,-3.7 M649.40,748.20 l-3.0,-1.15 M649.40,748.20 l3.0,-1.15 M649.40,748.20 l-1.9,2.45 M649.40,748.20 l1.9,2.45" stroke="#000" stroke-width="1.45" fill="none"/>
<path d="M651.60,776.00 l0,-3.7 M651.60,776.00 l-3.0,-1.15 M651.60,776.00 l3.0,-1.15 M651.60,776.00 l-1.9,2.45 M651.60,776.00 l1.9,2.45" stroke="#000" stroke-width="1.45" fill="none"/>
<path d="M658.60,776.00 l0,-3.7 M658.60,776.00 l-3.0,-1.15 M658.60,776.00 l3.0,-1.15 M658.60,776.00 l-1.9,2.45 M658.60,776.00 l1.9,2.45" stroke="#000" stroke-width="1.45" fill="none"/>
<path d="M665.60,776.00 l0,-3.7 M665.60,776.00 l-3.0,-1.15 M665.60,776.00 l3.0,-1.15 M665.60,776.00 l-1.9,2.45 M665.60,776.00 l1.9,2.45" stroke="#000" stroke-width="1.45" fill="none"/>
<path d="M651.60,786.60 l0,-3.7 M651.60,786.60 l-3.0,-1.15 M651.60,786.60 l3.0,-1.15 M651.60,786.60 l-1.9,2.45 M651.60,786.60 l1.9,2.45" stroke="#000" stroke-width="1.45" fill="none"/>
<path d="M658.60,786.60 l0,-3.7 M658.60,786.60 l-3.0,-1.15 M658.60,786.60 l3.0,-1.15 M658.60,786.60 l-1.9,2.45 M658.60,786.60 l1.9,2.45" stroke="#000" stroke-width="1.45" fill="none"/>
<path d="M665.60,786.60 l0,-3.7 M665.60,786.60 l-3.0,-1.15 M665.60,786.60 l3.0,-1.15 M665.60,786.60 l-1.9,2.45 M665.60,786.60 l1.9,2.45" stroke="#000" stroke-width="1.45" fill="none"/>
<text x="399.90" y="678.60" font-size="13.2" font-weight="normal" font-style="normal" fill="#000" text-anchor="start" >P1</text>
<text x="399.90" y="714.00" font-size="13.2" font-weight="normal" font-style="normal" fill="#000" text-anchor="start" >P2</text>
<text x="399.90" y="746.20" font-size="13.2" font-weight="normal" font-style="normal" fill="#000" text-anchor="start" >P3</text>
<text x="399.90" y="786.00" font-size="13.2" font-weight="normal" font-style="normal" fill="#000" text-anchor="start" >P4</text>
<g transform="translate(390,754) rotate(-90)">
<text x="-1.60" y="0.00" font-size="19.6" font-weight="normal" font-style="normal" fill="#000" text-anchor="start" >Pulses</text>
</g>
<text x="426.01" y="824.50" font-size="12.6" font-weight="normal" font-style="normal" fill="#222" text-anchor="start" >0</text>
<text x="465.50" y="824.50" font-size="12.6" font-weight="normal" font-style="normal" fill="#222" text-anchor="start" >5</text>
<text x="504.84" y="824.50" font-size="12.6" font-weight="normal" font-style="normal" fill="#222" text-anchor="start" >10</text>
<text x="543.54" y="824.50" font-size="12.6" font-weight="normal" font-style="normal" fill="#222" text-anchor="start" >15</text>
<text x="586.27" y="824.50" font-size="12.6" font-weight="normal" font-style="normal" fill="#222" text-anchor="start" >20</text>
<text x="627.17" y="824.50" font-size="12.6" font-weight="normal" font-style="normal" fill="#222" text-anchor="start" >25</text>
<text x="667.52" y="824.50" font-size="12.6" font-weight="normal" font-style="normal" fill="#222" text-anchor="start" >30</text>
<text x="497.20" y="852.00" font-size="15.4" font-weight="normal" font-style="normal" fill="#000" text-anchor="start" >Time post-stimuli (ms)</text>
<text x="360.00" y="25.00" font-size="25" font-weight="bold" font-style="normal" fill="#000" text-anchor="start" >b</text>
<text x="431.60" y="38.50" font-size="15.2" font-weight="bold" font-style="normal" fill="#000" text-anchor="start" >Control</text>
<text x="527.60" y="37.90" font-size="15.2" font-weight="bold" font-style="normal" fill="#2aa25c" text-anchor="start" >D-AP5</text>
<text x="615.60" y="37.90" font-size="15.2" font-weight="bold" font-style="normal" fill="#ffbf0f" text-anchor="start" >MCPG</text>
<g transform="translate(377.2,118) rotate(-90)">
<text x="-1.60" y="0.00" font-size="19.2" font-weight="normal" font-style="normal" fill="#000" text-anchor="start" >Pulses</text>
</g>
<g transform="translate(376.8,257.2) rotate(-90)">
<text x="-1.00" y="0.00" font-size="19" font-weight="normal" font-style="normal" fill="#000" text-anchor="start" >Spike counts</text>
</g>
<text x="406.90" y="62.20" font-size="12.4" font-weight="normal" font-style="normal" fill="#222" text-anchor="end" >50</text>
<text x="406.90" y="103.40" font-size="12.4" font-weight="normal" font-style="normal" fill="#222" text-anchor="end" >25</text>
<text x="406.90" y="141.20" font-size="12.4" font-weight="normal" font-style="normal" fill="#222" text-anchor="end" >0</text>
<text x="406.90" y="165.40" font-size="12.4" font-weight="normal" font-style="normal" fill="#222" text-anchor="end" >50</text>
<text x="406.90" y="205.30" font-size="12.4" font-weight="normal" font-style="normal" fill="#222" text-anchor="end" >25</text>
<text x="406.90" y="245.10" font-size="12.4" font-weight="normal" font-style="normal" fill="#222" text-anchor="end" >0</text>
<rect x="425.83" y="106.85" width="1.60" height="1.10" fill="#6a6a6a"/>
<rect x="425.89" y="125.55" width="1.60" height="1.10" fill="#6a6a6a"/>
<rect x="426.14" y="98.35" width="1.60" height="1.10" fill="#6a6a6a"/>
<rect x="426.33" y="71.15" width="1.60" height="1.10" fill="#6a6a6a"/>
<rect x="426.11" y="135.75" width="1.60" height="1.10" fill="#6a6a6a"/>
<rect x="426.00" y="134.05" width="1.60" height="1.10" fill="#6a6a6a"/>
<rect x="426.35" y="83.05" width="1.60" height="1.10" fill="#6a6a6a"/>
<rect x="425.79" y="130.65" width="1.60" height="1.10" fill="#6a6a6a"/>
<rect x="426.28" y="101.75" width="1.60" height="1.10" fill="#6a6a6a"/>
<rect x="425.93" y="77.95" width="1.60" height="1.10" fill="#6a6a6a"/>
<rect x="425.85" y="64.35" width="1.60" height="1.10" fill="#6a6a6a"/>
<rect x="425.83" y="86.45" width="1.60" height="1.10" fill="#6a6a6a"/>
<rect x="425.95" y="118.75" width="1.60" height="1.10" fill="#6a6a6a"/>
<rect x="426.25" y="137.45" width="1.60" height="1.10" fill="#6a6a6a"/>
<rect x="425.87" y="132.35" width="1.60" height="1.10" fill="#6a6a6a"/>
<rect x="426.11" y="94.95" width="1.60" height="1.10" fill="#6a6a6a"/>
<rect x="426.14" y="96.65" width="1.60" height="1.10" fill="#6a6a6a"/>
<rect x="425.98" y="66.05" width="1.60" height="1.10" fill="#6a6a6a"/>
<rect x="426.09" y="115.35" width="1.60" height="1.10" fill="#6a6a6a"/>
<rect x="425.80" y="79.65" width="1.60" height="1.10" fill="#6a6a6a"/>
<rect x="425.80" y="111.95" width="1.60" height="1.10" fill="#6a6a6a"/>
<rect x="425.88" y="72.85" width="1.60" height="1.10" fill="#6a6a6a"/>
<rect x="426.17" y="139.15" width="1.60" height="1.10" fill="#6a6a6a"/>
<rect x="426.02" y="84.75" width="1.60" height="1.10" fill="#6a6a6a"/>
<rect x="425.95" y="110.25" width="1.60" height="1.10" fill="#6a6a6a"/>
<rect x="427.90" y="77.95" width="1.60" height="1.10" fill="#6a6a6a"/>
<rect x="428.11" y="91.55" width="1.60" height="1.10" fill="#6a6a6a"/>
<rect x="428.02" y="101.75" width="1.60" height="1.10" fill="#6a6a6a"/>
<rect x="427.75" y="108.55" width="1.60" height="1.10" fill="#6a6a6a"/>
<rect x="428.17" y="115.35" width="1.60" height="1.10" fill="#6a6a6a"/>
<rect x="427.65" y="122.15" width="1.60" height="1.10" fill="#6a6a6a"/>
<rect x="427.83" y="64.35" width="1.60" height="1.10" fill="#6a6a6a"/>
<rect x="428.03" y="132.35" width="1.60" height="1.10" fill="#6a6a6a"/>
<rect x="427.67" y="79.65" width="1.60" height="1.10" fill="#6a6a6a"/>
<rect x="427.87" y="62.65" width="1.60" height="1.10" fill="#6a6a6a"/>
<rect x="429.64" y="137.45" width="1.60" height="1.10" fill="#6a6a6a"/>
<rect x="429.57" y="69.45" width="1.60" height="1.10" fill="#6a6a6a"/>
<rect x="429.48" y="134.05" width="1.60" height="1.10" fill="#6a6a6a"/>
<rect x="429.66" y="81.35" width="1.60" height="1.10" fill="#6a6a6a"/>
<rect x="429.73" y="79.65" width="1.60" height="1.10" fill="#6a6a6a"/>
<rect x="429.82" y="106.85" width="1.60" height="1.10" fill="#6a6a6a"/>
<rect x="429.99" y="105.15" width="1.60" height="1.10" fill="#6a6a6a"/>
<rect x="429.81" y="103.45" width="1.60" height="1.10" fill="#6a6a6a"/>
<rect x="429.63" y="76.25" width="1.60" height="1.10" fill="#6a6a6a"/>
<rect x="429.54" y="88.15" width="1.60" height="1.10" fill="#6a6a6a"/>
<rect x="429.45" y="77.95" width="1.60" height="1.10" fill="#6a6a6a"/>
<rect x="429.49" y="91.55" width="1.60" height="1.10" fill="#6a6a6a"/>
<rect x="429.80" y="60.95" width="1.60" height="1.10" fill="#6a6a6a"/>
<rect x="429.41" y="132.35" width="1.60" height="1.10" fill="#6a6a6a"/>
<rect x="429.90" y="111.95" width="1.60" height="1.10" fill="#6a6a6a"/>
<rect x="429.51" y="89.85" width="1.60" height="1.10" fill="#6a6a6a"/>
<rect x="429.57" y="74.55" width="1.60" height="1.10" fill="#6a6a6a"/>
<rect x="429.49" y="135.75" width="1.60" height="1.10" fill="#6a6a6a"/>
<rect x="429.72" y="108.55" width="1.60" height="1.10" fill="#6a6a6a"/>
<rect x="429.77" y="66.05" width="1.60" height="1.10" fill="#6a6a6a"/>
<rect x="429.59" y="110.25" width="1.60" height="1.10" fill="#6a6a6a"/>
<rect x="429.48" y="67.75" width="1.60" height="1.10" fill="#6a6a6a"/>
<rect x="429.92" y="96.65" width="1.60" height="1.10" fill="#6a6a6a"/>
<rect x="429.97" y="117.05" width="1.60" height="1.10" fill="#6a6a6a"/>
<rect x="429.79" y="125.55" width="1.60" height="1.10" fill="#6a6a6a"/>
<rect x="429.84" y="59.25" width="1.60" height="1.10" fill="#6a6a6a"/>
<rect x="429.67" y="120.45" width="1.60" height="1.10" fill="#6a6a6a"/>
<rect x="429.92" y="93.25" width="1.60" height="1.10" fill="#6a6a6a"/>
<rect x="429.97" y="122.15" width="1.60" height="1.10" fill="#6a6a6a"/>
<rect x="429.81" y="140.85" width="1.60" height="1.10" fill="#6a6a6a"/>
<rect x="429.74" y="94.95" width="1.60" height="1.10" fill="#6a6a6a"/>
<rect x="429.64" y="100.05" width="1.60" height="1.10" fill="#6a6a6a"/>
<rect x="429.64" y="64.35" width="1.60" height="1.10" fill="#6a6a6a"/>
<rect x="429.69" y="86.45" width="1.60" height="1.10" fill="#6a6a6a"/>
<rect x="429.64" y="115.35" width="1.60" height="1.10" fill="#6a6a6a"/>
<rect x="429.51" y="83.05" width="1.60" height="1.10" fill="#6a6a6a"/>
<rect x="429.99" y="113.65" width="1.60" height="1.10" fill="#6a6a6a"/>
<rect x="429.66" y="101.75" width="1.60" height="1.10" fill="#6a6a6a"/>
<rect x="429.47" y="84.75" width="1.60" height="1.10" fill="#6a6a6a"/>
<rect x="429.76" y="57.55" width="1.60" height="1.10" fill="#6a6a6a"/>
<rect x="429.46" y="118.75" width="1.60" height="1.10" fill="#6a6a6a"/>
<rect x="429.74" y="130.65" width="1.60" height="1.10" fill="#6a6a6a"/>
<rect x="429.72" y="127.25" width="1.60" height="1.10" fill="#6a6a6a"/>
<rect x="429.97" y="128.95" width="1.60" height="1.10" fill="#6a6a6a"/>
<rect x="429.77" y="98.35" width="1.60" height="1.10" fill="#6a6a6a"/>
<rect x="429.44" y="72.85" width="1.60" height="1.10" fill="#6a6a6a"/>
<rect x="429.52" y="139.15" width="1.60" height="1.10" fill="#6a6a6a"/>
<rect x="429.63" y="62.65" width="1.60" height="1.10" fill="#6a6a6a"/>
<rect x="433.26" y="72.85" width="1.60" height="1.10" fill="#6a6a6a"/>
<rect x="433.45" y="113.65" width="1.60" height="1.10" fill="#6a6a6a"/>
<rect x="433.59" y="103.45" width="1.60" height="1.10" fill="#6a6a6a"/>
<rect x="433.49" y="76.25" width="1.60" height="1.10" fill="#6a6a6a"/>
<rect x="433.22" y="101.75" width="1.60" height="1.10" fill="#6a6a6a"/>
<rect x="433.43" y="89.85" width="1.60" height="1.10" fill="#6a6a6a"/>
<rect x="433.09" y="128.95" width="1.60" height="1.10" fill="#6a6a6a"/>
<rect x="433.55" y="67.75" width="1.60" height="1.10" fill="#6a6a6a"/>
<rect x="433.35" y="88.15" width="1.60" height="1.10" fill="#6a6a6a"/>
<rect x="433.58" y="91.55" width="1.60" height="1.10" fill="#6a6a6a"/>
<rect x="433.25" y="66.05" width="1.60" height="1.10" fill="#6a6a6a"/>
<rect x="433.17" y="74.55" width="1.60" height="1.10" fill="#6a6a6a"/>
<rect x="433.36" y="108.55" width="1.60" height="1.10" fill="#6a6a6a"/>
<rect x="433.34" y="132.35" width="1.60" height="1.10" fill="#6a6a6a"/>
<rect x="433.42" y="125.55" width="1.60" height="1.10" fill="#6a6a6a"/>
<rect x="433.41" y="130.65" width="1.60" height="1.10" fill="#6a6a6a"/>
<rect x="433.51" y="105.15" width="1.60" height="1.10" fill="#6a6a6a"/>
<rect x="433.49" y="59.25" width="1.60" height="1.10" fill="#6a6a6a"/>
<rect x="433.16" y="62.65" width="1.60" height="1.10" fill="#6a6a6a"/>
<rect x="433.18" y="96.65" width="1.60" height="1.10" fill="#6a6a6a"/>
<rect x="433.28" y="60.95" width="1.60" height="1.10" fill="#6a6a6a"/>
<rect x="433.52" y="79.65" width="1.60" height="1.10" fill="#6a6a6a"/>
<rect x="433.16" y="86.45" width="1.60" height="1.10" fill="#6a6a6a"/>
<rect x="433.34" y="140.85" width="1.60" height="1.10" fill="#6a6a6a"/>
<rect x="433.48" y="83.05" width="1.60" height="1.10" fill="#6a6a6a"/>
<rect x="433.63" y="94.95" width="1.60" height="1.10" fill="#6a6a6a"/>
<rect x="434.86" y="111.95" width="1.60" height="1.10" fill="#6a6a6a"/>
<rect x="435.41" y="89.85" width="1.60" height="1.10" fill="#6a6a6a"/>
<rect x="435.07" y="113.65" width="1.60" height="1.10" fill="#6a6a6a"/>
<rect x="435.25" y="120.45" width="1.60" height="1.10" fill="#6a6a6a"/>
<rect x="435.36" y="66.05" width="1.60" height="1.10" fill="#6a6a6a"/>
<rect x="434.93" y="76.25" width="1.60" height="1.10" fill="#6a6a6a"/>
<rect x="435.09" y="103.45" width="1.60" height="1.10" fill="#6a6a6a"/>
<rect x="435.29" y="93.25" width="1.60" height="1.10" fill="#6a6a6a"/>
<rect x="434.98" y="67.75" width="1.60" height="1.10" fill="#6a6a6a"/>
<rect x="435.39" y="101.75" width="1.60" height="1.10" fill="#6a6a6a"/>
<rect x="435.12" y="132.35" width="1.60" height="1.10" fill="#6a6a6a"/>
<rect x="435.24" y="117.05" width="1.60" height="1.10" fill="#6a6a6a"/>
<rect x="434.91" y="130.65" width="1.60" height="1.10" fill="#6a6a6a"/>
<rect x="435.43" y="64.35" width="1.60" height="1.10" fill="#6a6a6a"/>
<rect x="435.29" y="59.25" width="1.60" height="1.10" fill="#6a6a6a"/>
<rect x="435.14" y="62.65" width="1.60" height="1.10" fill="#6a6a6a"/>
<rect x="435.31" y="105.15" width="1.60" height="1.10" fill="#6a6a6a"/>
<rect x="434.91" y="118.75" width="1.60" height="1.10" fill="#6a6a6a"/>
<rect x="434.96" y="81.35" width="1.60" height="1.10" fill="#6a6a6a"/>
<rect x="435.46" y="108.55" width="1.60" height="1.10" fill="#6a6a6a"/>
<rect x="434.88" y="69.45" width="1.60" height="1.10" fill="#6a6a6a"/>
<rect x="435.21" y="88.15" width="1.60" height="1.10" fill="#6a6a6a"/>
<rect x="435.14" y="96.65" width="1.60" height="1.10" fill="#6a6a6a"/>
<rect x="437.05" y="71.15" width="1.60" height="1.10" fill="#6a6a6a"/>
<rect x="437.04" y="125.55" width="1.60" height="1.10" fill="#6a6a6a"/>
<rect x="438.82" y="89.85" width="1.60" height="1.10" fill="#6a6a6a"/>
<rect x="439.06" y="69.45" width="1.60" height="1.10" fill="#6a6a6a"/>
<rect x="438.76" y="103.45" width="1.60" height="1.10" fill="#6a6a6a"/>
<rect x="439.02" y="125.55" width="1.60" height="1.10" fill="#6a6a6a"/>
<rect x="439.00" y="81.35" width="1.60" height="1.10" fill="#6a6a6a"/>
<rect x="438.63" y="64.35" width="1.60" height="1.10" fill="#6a6a6a"/>
<rect x="438.65" y="127.25" width="1.60" height="1.10" fill="#6a6a6a"/>
<rect x="438.68" y="139.15" width="1.60" height="1.10" fill="#6a6a6a"/>
<rect x="438.64" y="140.85" width="1.60" height="1.10" fill="#6a6a6a"/>
<rect x="438.85" y="130.65" width="1.60" height="1.10" fill="#6a6a6a"/>
<rect x="440.40" y="113.65" width="1.60" height="1.10" fill="#6a6a6a"/>
<rect x="440.69" y="83.05" width="1.60" height="1.10" fill="#6a6a6a"/>
<rect x="440.39" y="96.65" width="1.60" height="1.10" fill="#6a6a6a"/>
<rect x="440.36" y="127.25" width="1.60" height="1.10" fill="#6a6a6a"/>
<rect x="440.73" y="135.75" width="1.60" height="1.10" fill="#6a6a6a"/>
<rect x="440.64" y="103.45" width="1.60" height="1.10" fill="#6a6a6a"/>
<rect x="440.61" y="91.55" width="1.60" height="1.10" fill="#6a6a6a"/>
<rect x="440.79" y="69.45" width="1.60" height="1.10" fill="#6a6a6a"/>
<rect x="440.85" y="77.95" width="1.60" height="1.10" fill="#6a6a6a"/>
<rect x="440.35" y="84.75" width="1.60" height="1.10" fill="#6a6a6a"/>
<rect x="440.43" y="60.95" width="1.60" height="1.10" fill="#6a6a6a"/>
<rect x="440.35" y="86.45" width="1.60" height="1.10" fill="#6a6a6a"/>
<rect x="440.38" y="62.65" width="1.60" height="1.10" fill="#6a6a6a"/>
<rect x="440.59" y="59.25" width="1.60" height="1.10" fill="#6a6a6a"/>
<rect x="440.34" y="125.55" width="1.60" height="1.10" fill="#6a6a6a"/>
<rect x="440.86" y="72.85" width="1.60" height="1.10" fill="#6a6a6a"/>
<rect x="440.36" y="76.25" width="1.60" height="1.10" fill="#6a6a6a"/>
<rect x="440.52" y="139.15" width="1.60" height="1.10" fill="#6a6a6a"/>
<rect x="440.90" y="93.25" width="1.60" height="1.10" fill="#6a6a6a"/>
<rect x="440.68" y="100.05" width="1.60" height="1.10" fill="#6a6a6a"/>
<rect x="440.44" y="132.35" width="1.60" height="1.10" fill="#6a6a6a"/>
<rect x="440.49" y="108.55" width="1.60" height="1.10" fill="#6a6a6a"/>
<rect x="440.62" y="140.85" width="1.60" height="1.10" fill="#6a6a6a"/>
<rect x="440.80" y="89.85" width="1.60" height="1.10" fill="#6a6a6a"/>
<rect x="440.62" y="98.35" width="1.60" height="1.10" fill="#6a6a6a"/>
<rect x="440.47" y="134.05" width="1.60" height="1.10" fill="#6a6a6a"/>
<rect x="440.63" y="67.75" width="1.60" height="1.10" fill="#6a6a6a"/>
<rect x="442.40" y="113.65" width="1.60" height="1.10" fill="#6a6a6a"/>
<rect x="442.27" y="81.35" width="1.60" height="1.10" fill="#6a6a6a"/>
<rect x="442.32" y="120.45" width="1.60" height="1.10" fill="#6a6a6a"/>
<rect x="442.21" y="93.25" width="1.60" height="1.10" fill="#6a6a6a"/>
<rect x="442.61" y="127.25" width="1.60" height="1.10" fill="#6a6a6a"/>
<rect x="442.70" y="96.65" width="1.60" height="1.10" fill="#6a6a6a"/>
<rect x="442.53" y="128.95" width="1.60" height="1.10" fill="#6a6a6a"/>
<rect x="442.36" y="98.35" width="1.60" height="1.10" fill="#6a6a6a"/>
<rect x="442.29" y="62.65" width="1.60" height="1.10" fill="#6a6a6a"/>
<rect x="442.22" y="106.85" width="1.60" height="1.10" fill="#6a6a6a"/>
<rect x="442.42" y="134.05" width="1.60" height="1.10" fill="#6a6a6a"/>
<rect x="442.59" y="115.35" width="1.60" height="1.10" fill="#6a6a6a"/>
<rect x="444.56" y="130.65" width="1.60" height="1.10" fill="#6a6a6a"/>
<rect x="444.20" y="98.35" width="1.60" height="1.10" fill="#6a6a6a"/>
<rect x="444.21" y="88.15" width="1.60" height="1.10" fill="#6a6a6a"/>
<rect x="444.17" y="123.85" width="1.60" height="1.10" fill="#6a6a6a"/>
<rect x="444.02" y="69.45" width="1.60" height="1.10" fill="#6a6a6a"/>
<rect x="444.18" y="117.05" width="1.60" height="1.10" fill="#6a6a6a"/>
<rect x="444.16" y="62.65" width="1.60" height="1.10" fill="#6a6a6a"/>
<rect x="444.24" y="94.95" width="1.60" height="1.10" fill="#6a6a6a"/>
<rect x="446.37" y="64.35" width="1.60" height="1.10" fill="#6a6a6a"/>
<rect x="446.25" y="139.15" width="1.60" height="1.10" fill="#6a6a6a"/>
<rect x="446.36" y="100.05" width="1.60" height="1.10" fill="#6a6a6a"/>
<rect x="445.84" y="105.15" width="1.60" height="1.10" fill="#6a6a6a"/>
<rect x="445.94" y="84.75" width="1.60" height="1.10" fill="#6a6a6a"/>
<rect x="445.80" y="74.55" width="1.60" height="1.10" fill="#6a6a6a"/>
<rect x="446.25" y="110.25" width="1.60" height="1.10" fill="#6a6a6a"/>
<rect x="445.94" y="86.45" width="1.60" height="1.10" fill="#6a6a6a"/>
<rect x="445.86" y="134.05" width="1.60" height="1.10" fill="#6a6a6a"/>
<rect x="446.03" y="128.95" width="1.60" height="1.10" fill="#6a6a6a"/>
<rect x="447.94" y="67.75" width="1.60" height="1.10" fill="#6a6a6a"/>
<rect x="448.02" y="113.65" width="1.60" height="1.10" fill="#6a6a6a"/>
<rect x="447.65" y="98.35" width="1.60" height="1.10" fill="#6a6a6a"/>
<rect x="447.63" y="125.55" width="1.60" height="1.10" fill="#6a6a6a"/>
<rect x="448.01" y="83.05" width="1.60" height="1.10" fill="#6a6a6a"/>
<rect x="447.86" y="86.45" width="1.60" height="1.10" fill="#6a6a6a"/>
<rect x="449.47" y="134.05" width="1.60" height="1.10" fill="#6a6a6a"/>
<rect x="449.93" y="111.95" width="1.60" height="1.10" fill="#6a6a6a"/>
<rect x="449.46" y="139.15" width="1.60" height="1.10" fill="#6a6a6a"/>
<rect x="449.94" y="72.85" width="1.60" height="1.10" fill="#6a6a6a"/>
<rect x="449.69" y="132.35" width="1.60" height="1.10" fill="#6a6a6a"/>
<rect x="449.62" y="113.65" width="1.60" height="1.10" fill="#6a6a6a"/>
<rect x="451.27" y="81.35" width="1.60" height="1.10" fill="#6a6a6a"/>
<rect x="451.67" y="96.65" width="1.60" height="1.10" fill="#6a6a6a"/>
<rect x="451.80" y="111.95" width="1.60" height="1.10" fill="#6a6a6a"/>
<rect x="451.82" y="74.55" width="1.60" height="1.10" fill="#6a6a6a"/>
<rect x="451.40" y="127.25" width="1.60" height="1.10" fill="#6a6a6a"/>
<rect x="453.23" y="122.15" width="1.60" height="1.10" fill="#6a6a6a"/>
<rect x="453.36" y="120.45" width="1.60" height="1.10" fill="#6a6a6a"/>
<rect x="453.17" y="108.55" width="1.60" height="1.10" fill="#6a6a6a"/>
<rect x="453.27" y="72.85" width="1.60" height="1.10" fill="#6a6a6a"/>
<rect x="453.07" y="60.95" width="1.60" height="1.10" fill="#6a6a6a"/>
<rect x="453.21" y="84.75" width="1.60" height="1.10" fill="#6a6a6a"/>
<rect x="453.07" y="118.75" width="1.60" height="1.10" fill="#6a6a6a"/>
<rect x="455.21" y="62.65" width="1.60" height="1.10" fill="#6a6a6a"/>
<rect x="455.41" y="86.45" width="1.60" height="1.10" fill="#6a6a6a"/>
<rect x="455.46" y="81.35" width="1.60" height="1.10" fill="#6a6a6a"/>
<rect x="455.06" y="120.45" width="1.60" height="1.10" fill="#6a6a6a"/>
<rect x="455.01" y="59.25" width="1.60" height="1.10" fill="#6a6a6a"/>
<rect x="455.02" y="89.85" width="1.60" height="1.10" fill="#6a6a6a"/>
<rect x="455.00" y="115.35" width="1.60" height="1.10" fill="#6a6a6a"/>
<rect x="455.41" y="93.25" width="1.60" height="1.10" fill="#6a6a6a"/>
<rect x="455.32" y="130.65" width="1.60" height="1.10" fill="#6a6a6a"/>
<rect x="454.96" y="94.95" width="1.60" height="1.10" fill="#6a6a6a"/>
<rect x="455.47" y="88.15" width="1.60" height="1.10" fill="#6a6a6a"/>
<rect x="457.08" y="135.75" width="1.60" height="1.10" fill="#6a6a6a"/>
<rect x="457.23" y="127.25" width="1.60" height="1.10" fill="#6a6a6a"/>
<rect x="456.96" y="140.85" width="1.60" height="1.10" fill="#6a6a6a"/>
<rect x="456.73" y="134.05" width="1.60" height="1.10" fill="#6a6a6a"/>
<rect x="458.88" y="69.45" width="1.60" height="1.10" fill="#6a6a6a"/>
<rect x="458.94" y="100.05" width="1.60" height="1.10" fill="#6a6a6a"/>
<rect x="458.55" y="86.45" width="1.60" height="1.10" fill="#6a6a6a"/>
<rect x="458.63" y="110.25" width="1.60" height="1.10" fill="#6a6a6a"/>
<rect x="460.53" y="111.95" width="1.60" height="1.10" fill="#6a6a6a"/>
<rect x="460.36" y="93.25" width="1.60" height="1.10" fill="#6a6a6a"/>
<rect x="460.87" y="140.85" width="1.60" height="1.10" fill="#6a6a6a"/>
<rect x="460.47" y="113.65" width="1.60" height="1.10" fill="#6a6a6a"/>
<rect x="460.45" y="101.75" width="1.60" height="1.10" fill="#6a6a6a"/>
<rect x="460.54" y="105.15" width="1.60" height="1.10" fill="#6a6a6a"/>
<rect x="460.39" y="81.35" width="1.60" height="1.10" fill="#6a6a6a"/>
<rect x="464.28" y="111.95" width="1.60" height="1.10" fill="#6a6a6a"/>
<rect x="471.41" y="120.45" width="1.60" height="1.10" fill="#6a6a6a"/>
<rect x="485.82" y="57.55" width="1.60" height="1.10" fill="#6a6a6a"/>
<line x1="420.00" y1="142.60" x2="493.00" y2="142.60" stroke="#888" stroke-width="1.3" />
<line x1="420.60" y1="142.60" x2="420.60" y2="144.60" stroke="#999" stroke-width="1" />
<line x1="438.80" y1="142.60" x2="438.80" y2="144.60" stroke="#999" stroke-width="1" />
<line x1="457.00" y1="142.60" x2="457.00" y2="144.60" stroke="#999" stroke-width="1" />
<line x1="475.20" y1="142.60" x2="475.20" y2="144.60" stroke="#999" stroke-width="1" />
<line x1="493.40" y1="142.60" x2="493.40" y2="144.60" stroke="#999" stroke-width="1" />
<line x1="416.50" y1="57.80" x2="420.00" y2="57.80" stroke="#999" stroke-width="1" />
<line x1="416.50" y1="99.80" x2="420.00" y2="99.80" stroke="#999" stroke-width="1" />
<line x1="416.50" y1="142.40" x2="420.00" y2="142.40" stroke="#999" stroke-width="1" />
<line x1="420.00" y1="57.40" x2="420.00" y2="143.20" stroke="#777" stroke-width="2.4" />
<rect x="426.16" y="202.16" width="2.07" height="42.84" fill="#777777"/>
<rect x="427.98" y="228.85" width="2.07" height="16.15" fill="#777777"/>
<rect x="429.80" y="163.74" width="2.07" height="81.26" fill="#777777"/>
<rect x="433.44" y="200.80" width="2.07" height="44.20" fill="#777777"/>
<rect x="435.26" y="205.90" width="2.07" height="39.10" fill="#777777"/>
<rect x="437.08" y="241.26" width="2.07" height="3.74" fill="#777777"/>
<rect x="438.90" y="228.00" width="2.07" height="17.00" fill="#777777"/>
<rect x="440.72" y="199.10" width="2.07" height="45.90" fill="#777777"/>
<rect x="442.54" y="224.26" width="2.07" height="20.74" fill="#777777"/>
<rect x="444.36" y="231.40" width="2.07" height="13.60" fill="#777777"/>
<rect x="446.18" y="228.00" width="2.07" height="17.00" fill="#777777"/>
<rect x="448.00" y="234.46" width="2.07" height="10.54" fill="#777777"/>
<rect x="449.82" y="234.46" width="2.07" height="10.54" fill="#777777"/>
<rect x="451.64" y="235.99" width="2.07" height="9.01" fill="#777777"/>
<rect x="453.46" y="233.10" width="2.07" height="11.90" fill="#777777"/>
<rect x="455.28" y="225.96" width="2.07" height="19.04" fill="#777777"/>
<rect x="457.10" y="238.20" width="2.07" height="6.80" fill="#777777"/>
<rect x="458.92" y="238.20" width="2.07" height="6.80" fill="#777777"/>
<rect x="460.74" y="233.10" width="2.07" height="11.90" fill="#777777"/>
<rect x="464.38" y="243.30" width="2.07" height="1.70" fill="#777777"/>
<rect x="471.66" y="243.30" width="2.07" height="1.70" fill="#777777"/>
<rect x="486.22" y="243.30" width="2.07" height="1.70" fill="#777777"/>
<line x1="420.00" y1="245.20" x2="493.00" y2="245.20" stroke="#888" stroke-width="1.3" />
<line x1="420.60" y1="245.20" x2="420.60" y2="247.20" stroke="#999" stroke-width="1" />
<line x1="438.80" y1="245.20" x2="438.80" y2="247.20" stroke="#999" stroke-width="1" />
<line x1="457.00" y1="245.20" x2="457.00" y2="247.20" stroke="#999" stroke-width="1" />
<line x1="475.20" y1="245.20" x2="475.20" y2="247.20" stroke="#999" stroke-width="1" />
<line x1="493.40" y1="245.20" x2="493.40" y2="247.20" stroke="#999" stroke-width="1" />
<line x1="416.50" y1="160.00" x2="420.00" y2="160.00" stroke="#999" stroke-width="1" />
<line x1="416.50" y1="202.50" x2="420.00" y2="202.50" stroke="#999" stroke-width="1" />
<line x1="416.50" y1="245.00" x2="420.00" y2="245.00" stroke="#999" stroke-width="1" />
<line x1="420.00" y1="159.60" x2="420.00" y2="245.80" stroke="#777" stroke-width="2.4" />
<rect x="511.63" y="113.65" width="1.60" height="1.10" fill="#2f9f5f"/>
<rect x="511.34" y="132.35" width="1.60" height="1.10" fill="#2f9f5f"/>
<rect x="511.82" y="125.55" width="1.60" height="1.10" fill="#2f9f5f"/>
<rect x="511.79" y="98.35" width="1.60" height="1.10" fill="#2f9f5f"/>
<rect x="511.64" y="77.95" width="1.60" height="1.10" fill="#2f9f5f"/>
<rect x="511.66" y="137.45" width="1.60" height="1.10" fill="#2f9f5f"/>
<rect x="511.74" y="62.65" width="1.60" height="1.10" fill="#2f9f5f"/>
<rect x="511.38" y="139.15" width="1.60" height="1.10" fill="#2f9f5f"/>
<rect x="511.78" y="108.55" width="1.60" height="1.10" fill="#2f9f5f"/>
<rect x="511.49" y="71.15" width="1.60" height="1.10" fill="#2f9f5f"/>
<rect x="511.38" y="117.05" width="1.60" height="1.10" fill="#2f9f5f"/>
<rect x="511.50" y="59.25" width="1.60" height="1.10" fill="#2f9f5f"/>
<rect x="511.78" y="64.35" width="1.60" height="1.10" fill="#2f9f5f"/>
<rect x="511.46" y="84.75" width="1.60" height="1.10" fill="#2f9f5f"/>
<rect x="511.78" y="60.95" width="1.60" height="1.10" fill="#2f9f5f"/>
<rect x="511.93" y="100.05" width="1.60" height="1.10" fill="#2f9f5f"/>
<rect x="511.64" y="106.85" width="1.60" height="1.10" fill="#2f9f5f"/>
<rect x="511.57" y="88.15" width="1.60" height="1.10" fill="#2f9f5f"/>
<rect x="511.63" y="81.35" width="1.60" height="1.10" fill="#2f9f5f"/>
<rect x="511.75" y="86.45" width="1.60" height="1.10" fill="#2f9f5f"/>
<rect x="511.80" y="101.75" width="1.60" height="1.10" fill="#2f9f5f"/>
<rect x="511.71" y="72.85" width="1.60" height="1.10" fill="#2f9f5f"/>
<rect x="511.73" y="79.65" width="1.60" height="1.10" fill="#2f9f5f"/>
<rect x="511.39" y="134.05" width="1.60" height="1.10" fill="#2f9f5f"/>
<rect x="511.43" y="69.45" width="1.60" height="1.10" fill="#2f9f5f"/>
<rect x="511.49" y="103.45" width="1.60" height="1.10" fill="#2f9f5f"/>
<rect x="511.79" y="57.55" width="1.60" height="1.10" fill="#2f9f5f"/>
<rect x="511.52" y="94.95" width="1.60" height="1.10" fill="#2f9f5f"/>
<rect x="511.68" y="118.75" width="1.60" height="1.10" fill="#2f9f5f"/>
<rect x="511.35" y="91.55" width="1.60" height="1.10" fill="#2f9f5f"/>
<rect x="511.38" y="96.65" width="1.60" height="1.10" fill="#2f9f5f"/>
<rect x="511.50" y="83.05" width="1.60" height="1.10" fill="#2f9f5f"/>
<rect x="511.74" y="110.25" width="1.60" height="1.10" fill="#2f9f5f"/>
<rect x="511.76" y="140.85" width="1.60" height="1.10" fill="#2f9f5f"/>
<rect x="511.75" y="128.95" width="1.60" height="1.10" fill="#2f9f5f"/>
<rect x="511.51" y="67.75" width="1.60" height="1.10" fill="#2f9f5f"/>
<rect x="511.65" y="111.95" width="1.60" height="1.10" fill="#2f9f5f"/>
<rect x="511.62" y="105.15" width="1.60" height="1.10" fill="#2f9f5f"/>
<rect x="511.62" y="66.05" width="1.60" height="1.10" fill="#2f9f5f"/>
<rect x="511.41" y="123.85" width="1.60" height="1.10" fill="#2f9f5f"/>
<rect x="511.88" y="76.25" width="1.60" height="1.10" fill="#2f9f5f"/>
<rect x="511.46" y="74.55" width="1.60" height="1.10" fill="#2f9f5f"/>
<rect x="511.93" y="130.65" width="1.60" height="1.10" fill="#2f9f5f"/>
<rect x="511.90" y="115.35" width="1.60" height="1.10" fill="#2f9f5f"/>
<rect x="511.35" y="135.75" width="1.60" height="1.10" fill="#2f9f5f"/>
<rect x="511.62" y="93.25" width="1.60" height="1.10" fill="#2f9f5f"/>
<rect x="511.83" y="120.45" width="1.60" height="1.10" fill="#2f9f5f"/>
<rect x="511.92" y="122.15" width="1.60" height="1.10" fill="#2f9f5f"/>
<rect x="511.61" y="89.85" width="1.60" height="1.10" fill="#2f9f5f"/>
<rect x="511.50" y="127.25" width="1.60" height="1.10" fill="#2f9f5f"/>
<rect x="514.98" y="118.75" width="1.60" height="1.10" fill="#2f9f5f"/>
<rect x="515.43" y="57.55" width="1.60" height="1.10" fill="#2f9f5f"/>
<rect x="515.48" y="134.05" width="1.60" height="1.10" fill="#2f9f5f"/>
<rect x="515.05" y="77.95" width="1.60" height="1.10" fill="#2f9f5f"/>
<rect x="515.54" y="132.35" width="1.60" height="1.10" fill="#2f9f5f"/>
<rect x="515.41" y="125.55" width="1.60" height="1.10" fill="#2f9f5f"/>
<rect x="515.52" y="84.75" width="1.60" height="1.10" fill="#2f9f5f"/>
<rect x="515.15" y="113.65" width="1.60" height="1.10" fill="#2f9f5f"/>
<rect x="515.20" y="101.75" width="1.60" height="1.10" fill="#2f9f5f"/>
<rect x="515.22" y="127.25" width="1.60" height="1.10" fill="#2f9f5f"/>
<rect x="515.58" y="76.25" width="1.60" height="1.10" fill="#2f9f5f"/>
<rect x="515.33" y="86.45" width="1.60" height="1.10" fill="#2f9f5f"/>
<rect x="515.20" y="111.95" width="1.60" height="1.10" fill="#2f9f5f"/>
<rect x="515.24" y="128.95" width="1.60" height="1.10" fill="#2f9f5f"/>
<rect x="515.15" y="71.15" width="1.60" height="1.10" fill="#2f9f5f"/>
<rect x="515.01" y="117.05" width="1.60" height="1.10" fill="#2f9f5f"/>
<rect x="515.04" y="88.15" width="1.60" height="1.10" fill="#2f9f5f"/>
<rect x="515.48" y="67.75" width="1.60" height="1.10" fill="#2f9f5f"/>
<rect x="515.15" y="98.35" width="1.60" height="1.10" fill="#2f9f5f"/>
<rect x="515.54" y="140.85" width="1.60" height="1.10" fill="#2f9f5f"/>
<rect x="515.13" y="64.35" width="1.60" height="1.10" fill="#2f9f5f"/>
<rect x="515.14" y="89.85" width="1.60" height="1.10" fill="#2f9f5f"/>
<rect x="515.29" y="115.35" width="1.60" height="1.10" fill="#2f9f5f"/>
<rect x="515.09" y="105.15" width="1.60" height="1.10" fill="#2f9f5f"/>
<rect x="515.20" y="83.05" width="1.60" height="1.10" fill="#2f9f5f"/>
<rect x="515.55" y="120.45" width="1.60" height="1.10" fill="#2f9f5f"/>
<rect x="515.51" y="66.05" width="1.60" height="1.10" fill="#2f9f5f"/>
<rect x="515.47" y="60.95" width="1.60" height="1.10" fill="#2f9f5f"/>
<rect x="515.36" y="59.25" width="1.60" height="1.10" fill="#2f9f5f"/>
<rect x="515.53" y="122.15" width="1.60" height="1.10" fill="#2f9f5f"/>
<rect x="515.54" y="100.05" width="1.60" height="1.10" fill="#2f9f5f"/>
<rect x="515.31" y="123.85" width="1.60" height="1.10" fill="#2f9f5f"/>
<rect x="515.41" y="135.75" width="1.60" height="1.10" fill="#2f9f5f"/>
<rect x="515.01" y="110.25" width="1.60" height="1.10" fill="#2f9f5f"/>
<rect x="516.95" y="62.65" width="1.60" height="1.10" fill="#2f9f5f"/>
<rect x="517.24" y="96.65" width="1.60" height="1.10" fill="#2f9f5f"/>
<rect x="517.19" y="93.25" width="1.60" height="1.10" fill="#2f9f5f"/>
<rect x="517.04" y="74.55" width="1.60" height="1.10" fill="#2f9f5f"/>
<rect x="516.94" y="127.25" width="1.60" height="1.10" fill="#2f9f5f"/>
<rect x="517.09" y="71.15" width="1.60" height="1.10" fill="#2f9f5f"/>
<rect x="517.20" y="110.25" width="1.60" height="1.10" fill="#2f9f5f"/>
<rect x="516.87" y="88.15" width="1.60" height="1.10" fill="#2f9f5f"/>
<rect x="517.19" y="135.75" width="1.60" height="1.10" fill="#2f9f5f"/>
<rect x="516.85" y="81.35" width="1.60" height="1.10" fill="#2f9f5f"/>
<rect x="517.10" y="64.35" width="1.60" height="1.10" fill="#2f9f5f"/>
<rect x="517.29" y="123.85" width="1.60" height="1.10" fill="#2f9f5f"/>
<rect x="517.13" y="89.85" width="1.60" height="1.10" fill="#2f9f5f"/>
<rect x="517.07" y="59.25" width="1.60" height="1.10" fill="#2f9f5f"/>
<rect x="517.00" y="105.15" width="1.60" height="1.10" fill="#2f9f5f"/>
<rect x="517.26" y="67.75" width="1.60" height="1.10" fill="#2f9f5f"/>
<rect x="517.06" y="108.55" width="1.60" height="1.10" fill="#2f9f5f"/>
<rect x="518.81" y="81.35" width="1.60" height="1.10" fill="#2f9f5f"/>
<rect x="518.84" y="120.45" width="1.60" height="1.10" fill="#2f9f5f"/>
<rect x="519.11" y="115.35" width="1.60" height="1.10" fill="#2f9f5f"/>
<rect x="518.74" y="132.35" width="1.60" height="1.10" fill="#2f9f5f"/>
<rect x="518.63" y="122.15" width="1.60" height="1.10" fill="#2f9f5f"/>
<rect x="519.14" y="105.15" width="1.60" height="1.10" fill="#2f9f5f"/>
<rect x="518.85" y="57.55" width="1.60" height="1.10" fill="#2f9f5f"/>
<rect x="519.07" y="62.65" width="1.60" height="1.10" fill="#2f9f5f"/>
<rect x="522.77" y="118.75" width="1.60" height="1.10" fill="#2f9f5f"/>
<rect x="522.78" y="100.05" width="1.60" height="1.10" fill="#2f9f5f"/>
<rect x="522.27" y="111.95" width="1.60" height="1.10" fill="#2f9f5f"/>
<rect x="522.28" y="105.15" width="1.60" height="1.10" fill="#2f9f5f"/>
<rect x="522.69" y="135.75" width="1.60" height="1.10" fill="#2f9f5f"/>
<rect x="522.80" y="88.15" width="1.60" height="1.10" fill="#2f9f5f"/>
<rect x="522.54" y="60.95" width="1.60" height="1.10" fill="#2f9f5f"/>
<rect x="522.61" y="79.65" width="1.60" height="1.10" fill="#2f9f5f"/>
<rect x="522.26" y="101.75" width="1.60" height="1.10" fill="#2f9f5f"/>
<rect x="522.49" y="127.25" width="1.60" height="1.10" fill="#2f9f5f"/>
<rect x="522.82" y="86.45" width="1.60" height="1.10" fill="#2f9f5f"/>
<rect x="522.76" y="84.75" width="1.60" height="1.10" fill="#2f9f5f"/>
<rect x="522.77" y="57.55" width="1.60" height="1.10" fill="#2f9f5f"/>
<rect x="522.84" y="132.35" width="1.60" height="1.10" fill="#2f9f5f"/>
<rect x="522.41" y="67.75" width="1.60" height="1.10" fill="#2f9f5f"/>
<rect x="522.33" y="115.35" width="1.60" height="1.10" fill="#2f9f5f"/>
<rect x="522.35" y="59.25" width="1.60" height="1.10" fill="#2f9f5f"/>
<rect x="522.57" y="98.35" width="1.60" height="1.10" fill="#2f9f5f"/>
<rect x="522.67" y="93.25" width="1.60" height="1.10" fill="#2f9f5f"/>
<rect x="522.82" y="77.95" width="1.60" height="1.10" fill="#2f9f5f"/>
<rect x="522.69" y="125.55" width="1.60" height="1.10" fill="#2f9f5f"/>
<rect x="524.66" y="71.15" width="1.60" height="1.10" fill="#2f9f5f"/>
<rect x="524.46" y="59.25" width="1.60" height="1.10" fill="#2f9f5f"/>
<rect x="524.40" y="91.55" width="1.60" height="1.10" fill="#2f9f5f"/>
<rect x="524.34" y="132.35" width="1.60" height="1.10" fill="#2f9f5f"/>
<rect x="524.54" y="81.35" width="1.60" height="1.10" fill="#2f9f5f"/>
<rect x="524.14" y="137.45" width="1.60" height="1.10" fill="#2f9f5f"/>
<rect x="524.26" y="140.85" width="1.60" height="1.10" fill="#2f9f5f"/>
<rect x="524.65" y="127.25" width="1.60" height="1.10" fill="#2f9f5f"/>
<rect x="524.20" y="117.05" width="1.60" height="1.10" fill="#2f9f5f"/>
<rect x="524.24" y="79.65" width="1.60" height="1.10" fill="#2f9f5f"/>
<rect x="524.55" y="66.05" width="1.60" height="1.10" fill="#2f9f5f"/>
<rect x="524.08" y="108.55" width="1.60" height="1.10" fill="#2f9f5f"/>
<rect x="527.90" y="83.05" width="1.60" height="1.10" fill="#2f9f5f"/>
<rect x="529.71" y="91.55" width="1.60" height="1.10" fill="#2f9f5f"/>
<rect x="531.86" y="106.85" width="1.60" height="1.10" fill="#2f9f5f"/>
<rect x="531.51" y="71.15" width="1.60" height="1.10" fill="#2f9f5f"/>
<rect x="542.42" y="84.75" width="1.60" height="1.10" fill="#2f9f5f"/>
<rect x="544.68" y="115.35" width="1.60" height="1.10" fill="#2f9f5f"/>
<rect x="544.52" y="139.15" width="1.60" height="1.10" fill="#2f9f5f"/>
<rect x="549.59" y="108.55" width="1.60" height="1.10" fill="#2f9f5f"/>
<rect x="551.68" y="120.45" width="1.60" height="1.10" fill="#2f9f5f"/>
<rect x="562.69" y="67.75" width="1.60" height="1.10" fill="#2f9f5f"/>
<rect x="566.09" y="132.35" width="1.60" height="1.10" fill="#2f9f5f"/>
<rect x="568.32" y="69.45" width="1.60" height="1.10" fill="#2f9f5f"/>
<rect x="567.90" y="94.95" width="1.60" height="1.10" fill="#2f9f5f"/>
<rect x="570.00" y="137.45" width="1.60" height="1.10" fill="#2f9f5f"/>
<rect x="577.27" y="64.35" width="1.60" height="1.10" fill="#2f9f5f"/>
<rect x="576.98" y="96.65" width="1.60" height="1.10" fill="#2f9f5f"/>
<rect x="577.34" y="101.75" width="1.60" height="1.10" fill="#2f9f5f"/>
<line x1="507.40" y1="142.60" x2="580.40" y2="142.60" stroke="#888" stroke-width="1.3" />
<line x1="508.00" y1="142.60" x2="508.00" y2="144.60" stroke="#999" stroke-width="1" />
<line x1="526.20" y1="142.60" x2="526.20" y2="144.60" stroke="#999" stroke-width="1" />
<line x1="544.40" y1="142.60" x2="544.40" y2="144.60" stroke="#999" stroke-width="1" />
<line x1="562.60" y1="142.60" x2="562.60" y2="144.60" stroke="#999" stroke-width="1" />
<line x1="580.80" y1="142.60" x2="580.80" y2="144.60" stroke="#999" stroke-width="1" />
<line x1="503.90" y1="57.80" x2="507.40" y2="57.80" stroke="#999" stroke-width="1" />
<line x1="503.90" y1="99.80" x2="507.40" y2="99.80" stroke="#999" stroke-width="1" />
<line x1="503.90" y1="142.40" x2="507.40" y2="142.40" stroke="#999" stroke-width="1" />
<line x1="507.40" y1="57.40" x2="507.40" y2="143.20" stroke="#777" stroke-width="2.4" />
<rect x="511.74" y="160.00" width="2.07" height="85.00" fill="#3aa86c"/>
<rect x="515.38" y="187.20" width="2.07" height="57.80" fill="#3aa86c"/>
<rect x="517.20" y="216.10" width="2.07" height="28.90" fill="#3aa86c"/>
<rect x="519.02" y="231.40" width="2.07" height="13.60" fill="#3aa86c"/>
<rect x="522.66" y="209.30" width="2.07" height="35.70" fill="#3aa86c"/>
<rect x="524.48" y="224.60" width="2.07" height="20.40" fill="#3aa86c"/>
<rect x="528.12" y="242.79" width="2.07" height="2.21" fill="#3aa86c"/>
<rect x="529.94" y="242.79" width="2.07" height="2.21" fill="#3aa86c"/>
<rect x="531.76" y="241.26" width="2.07" height="3.74" fill="#3aa86c"/>
<rect x="542.68" y="242.79" width="2.07" height="2.21" fill="#3aa86c"/>
<rect x="544.50" y="241.26" width="2.07" height="3.74" fill="#3aa86c"/>
<rect x="549.96" y="242.79" width="2.07" height="2.21" fill="#3aa86c"/>
<rect x="551.78" y="242.79" width="2.07" height="2.21" fill="#3aa86c"/>
<rect x="562.70" y="242.79" width="2.07" height="2.21" fill="#3aa86c"/>
<rect x="566.34" y="242.79" width="2.07" height="2.21" fill="#3aa86c"/>
<rect x="568.16" y="241.26" width="2.07" height="3.74" fill="#3aa86c"/>
<rect x="569.98" y="242.79" width="2.07" height="2.21" fill="#3aa86c"/>
<rect x="577.26" y="239.39" width="2.07" height="5.61" fill="#3aa86c"/>
<line x1="507.40" y1="245.20" x2="580.40" y2="245.20" stroke="#888" stroke-width="1.3" />
<line x1="508.00" y1="245.20" x2="508.00" y2="247.20" stroke="#999" stroke-width="1" />
<line x1="526.20" y1="245.20" x2="526.20" y2="247.20" stroke="#999" stroke-width="1" />
<line x1="544.40" y1="245.20" x2="544.40" y2="247.20" stroke="#999" stroke-width="1" />
<line x1="562.60" y1="245.20" x2="562.60" y2="247.20" stroke="#999" stroke-width="1" />
<line x1="580.80" y1="245.20" x2="580.80" y2="247.20" stroke="#999" stroke-width="1" />
<line x1="503.90" y1="160.00" x2="507.40" y2="160.00" stroke="#999" stroke-width="1" />
<line x1="503.90" y1="202.50" x2="507.40" y2="202.50" stroke="#999" stroke-width="1" />
<line x1="503.90" y1="245.00" x2="507.40" y2="245.00" stroke="#999" stroke-width="1" />
<line x1="507.40" y1="159.60" x2="507.40" y2="245.80" stroke="#777" stroke-width="2.4" />
<rect x="597.93" y="60.95" width="1.60" height="1.10" fill="#f5b40a"/>
<rect x="598.18" y="86.45" width="1.60" height="1.10" fill="#f5b40a"/>
<rect x="598.24" y="134.05" width="1.60" height="1.10" fill="#f5b40a"/>
<rect x="598.33" y="118.75" width="1.60" height="1.10" fill="#f5b40a"/>
<rect x="598.01" y="88.15" width="1.60" height="1.10" fill="#f5b40a"/>
<rect x="597.81" y="120.45" width="1.60" height="1.10" fill="#f5b40a"/>
<rect x="597.79" y="108.55" width="1.60" height="1.10" fill="#f5b40a"/>
<rect x="597.79" y="66.05" width="1.60" height="1.10" fill="#f5b40a"/>
<rect x="597.99" y="117.05" width="1.60" height="1.10" fill="#f5b40a"/>
<rect x="598.27" y="91.55" width="1.60" height="1.10" fill="#f5b40a"/>
<rect x="598.08" y="71.15" width="1.60" height="1.10" fill="#f5b40a"/>
<rect x="598.20" y="113.65" width="1.60" height="1.10" fill="#f5b40a"/>
<rect x="597.97" y="110.25" width="1.60" height="1.10" fill="#f5b40a"/>
<rect x="598.20" y="130.65" width="1.60" height="1.10" fill="#f5b40a"/>
<rect x="597.93" y="64.35" width="1.60" height="1.10" fill="#f5b40a"/>
<rect x="598.22" y="122.15" width="1.60" height="1.10" fill="#f5b40a"/>
<rect x="597.79" y="74.55" width="1.60" height="1.10" fill="#f5b40a"/>
<rect x="598.16" y="81.35" width="1.60" height="1.10" fill="#f5b40a"/>
<rect x="597.86" y="96.65" width="1.60" height="1.10" fill="#f5b40a"/>
<rect x="598.06" y="72.85" width="1.60" height="1.10" fill="#f5b40a"/>
<rect x="598.01" y="105.15" width="1.60" height="1.10" fill="#f5b40a"/>
<rect x="597.93" y="139.15" width="1.60" height="1.10" fill="#f5b40a"/>
<rect x="598.18" y="67.75" width="1.60" height="1.10" fill="#f5b40a"/>
<rect x="598.02" y="57.55" width="1.60" height="1.10" fill="#f5b40a"/>
<rect x="598.12" y="69.45" width="1.60" height="1.10" fill="#f5b40a"/>
<rect x="597.89" y="93.25" width="1.60" height="1.10" fill="#f5b40a"/>
<rect x="598.12" y="79.65" width="1.60" height="1.10" fill="#f5b40a"/>
<rect x="597.98" y="140.85" width="1.60" height="1.10" fill="#f5b40a"/>
<rect x="597.97" y="94.95" width="1.60" height="1.10" fill="#f5b40a"/>
<rect x="598.02" y="59.25" width="1.60" height="1.10" fill="#f5b40a"/>
<rect x="598.22" y="62.65" width="1.60" height="1.10" fill="#f5b40a"/>
<rect x="597.78" y="100.05" width="1.60" height="1.10" fill="#f5b40a"/>
<rect x="597.86" y="77.95" width="1.60" height="1.10" fill="#f5b40a"/>
<rect x="597.78" y="132.35" width="1.60" height="1.10" fill="#f5b40a"/>
<rect x="598.10" y="98.35" width="1.60" height="1.10" fill="#f5b40a"/>
<rect x="597.96" y="128.95" width="1.60" height="1.10" fill="#f5b40a"/>
<rect x="597.94" y="83.05" width="1.60" height="1.10" fill="#f5b40a"/>
<rect x="598.31" y="76.25" width="1.60" height="1.10" fill="#f5b40a"/>
<rect x="597.77" y="89.85" width="1.60" height="1.10" fill="#f5b40a"/>
<rect x="598.19" y="111.95" width="1.60" height="1.10" fill="#f5b40a"/>
<rect x="598.15" y="123.85" width="1.60" height="1.10" fill="#f5b40a"/>
<rect x="598.29" y="137.45" width="1.60" height="1.10" fill="#f5b40a"/>
<rect x="597.92" y="115.35" width="1.60" height="1.10" fill="#f5b40a"/>
<rect x="598.17" y="125.55" width="1.60" height="1.10" fill="#f5b40a"/>
<rect x="598.10" y="101.75" width="1.60" height="1.10" fill="#f5b40a"/>
<rect x="598.22" y="106.85" width="1.60" height="1.10" fill="#f5b40a"/>
<rect x="598.31" y="135.75" width="1.60" height="1.10" fill="#f5b40a"/>
<rect x="597.78" y="103.45" width="1.60" height="1.10" fill="#f5b40a"/>
<rect x="599.76" y="117.05" width="1.60" height="1.10" fill="#f5b40a"/>
<rect x="599.75" y="130.65" width="1.60" height="1.10" fill="#f5b40a"/>
<rect x="599.78" y="89.85" width="1.60" height="1.10" fill="#f5b40a"/>
<rect x="600.03" y="64.35" width="1.60" height="1.10" fill="#f5b40a"/>
<rect x="599.61" y="91.55" width="1.60" height="1.10" fill="#f5b40a"/>
<rect x="599.68" y="100.05" width="1.60" height="1.10" fill="#f5b40a"/>
<rect x="600.01" y="113.65" width="1.60" height="1.10" fill="#f5b40a"/>
<rect x="599.71" y="94.95" width="1.60" height="1.10" fill="#f5b40a"/>
<rect x="599.60" y="88.15" width="1.60" height="1.10" fill="#f5b40a"/>
<rect x="599.58" y="127.25" width="1.60" height="1.10" fill="#f5b40a"/>
<rect x="599.89" y="71.15" width="1.60" height="1.10" fill="#f5b40a"/>
<rect x="599.76" y="122.15" width="1.60" height="1.10" fill="#f5b40a"/>
<rect x="600.15" y="140.85" width="1.60" height="1.10" fill="#f5b40a"/>
<rect x="600.09" y="108.55" width="1.60" height="1.10" fill="#f5b40a"/>
<rect x="600.15" y="125.55" width="1.60" height="1.10" fill="#f5b40a"/>
<rect x="599.72" y="115.35" width="1.60" height="1.10" fill="#f5b40a"/>
<rect x="601.44" y="132.35" width="1.60" height="1.10" fill="#f5b40a"/>
<rect x="601.68" y="118.75" width="1.60" height="1.10" fill="#f5b40a"/>
<rect x="603.28" y="64.35" width="1.60" height="1.10" fill="#f5b40a"/>
<rect x="603.48" y="93.25" width="1.60" height="1.10" fill="#f5b40a"/>
<rect x="603.73" y="122.15" width="1.60" height="1.10" fill="#f5b40a"/>
<rect x="603.34" y="117.05" width="1.60" height="1.10" fill="#f5b40a"/>
<rect x="605.53" y="83.05" width="1.60" height="1.10" fill="#f5b40a"/>
<rect x="607.10" y="69.45" width="1.60" height="1.10" fill="#f5b40a"/>
<rect x="606.95" y="59.25" width="1.60" height="1.10" fill="#f5b40a"/>
<rect x="606.98" y="128.95" width="1.60" height="1.10" fill="#f5b40a"/>
<rect x="607.01" y="110.25" width="1.60" height="1.10" fill="#f5b40a"/>
<rect x="607.38" y="62.65" width="1.60" height="1.10" fill="#f5b40a"/>
<rect x="606.95" y="111.95" width="1.60" height="1.10" fill="#f5b40a"/>
<rect x="606.88" y="79.65" width="1.60" height="1.10" fill="#f5b40a"/>
<rect x="606.99" y="66.05" width="1.60" height="1.10" fill="#f5b40a"/>
<rect x="606.99" y="101.75" width="1.60" height="1.10" fill="#f5b40a"/>
<rect x="607.16" y="113.65" width="1.60" height="1.10" fill="#f5b40a"/>
<rect x="607.23" y="72.85" width="1.60" height="1.10" fill="#f5b40a"/>
<rect x="606.90" y="120.45" width="1.60" height="1.10" fill="#f5b40a"/>
<rect x="609.02" y="91.55" width="1.60" height="1.10" fill="#f5b40a"/>
<rect x="609.16" y="137.45" width="1.60" height="1.10" fill="#f5b40a"/>
<rect x="608.78" y="130.65" width="1.60" height="1.10" fill="#f5b40a"/>
<rect x="608.71" y="140.85" width="1.60" height="1.10" fill="#f5b40a"/>
<rect x="608.97" y="89.85" width="1.60" height="1.10" fill="#f5b40a"/>
<rect x="608.77" y="117.05" width="1.60" height="1.10" fill="#f5b40a"/>
<rect x="609.02" y="93.25" width="1.60" height="1.10" fill="#f5b40a"/>
<rect x="609.12" y="101.75" width="1.60" height="1.10" fill="#f5b40a"/>
<rect x="609.06" y="59.25" width="1.60" height="1.10" fill="#f5b40a"/>
<rect x="608.66" y="110.25" width="1.60" height="1.10" fill="#f5b40a"/>
<rect x="609.04" y="66.05" width="1.60" height="1.10" fill="#f5b40a"/>
<rect x="609.09" y="128.95" width="1.60" height="1.10" fill="#f5b40a"/>
<rect x="608.87" y="135.75" width="1.60" height="1.10" fill="#f5b40a"/>
<rect x="608.68" y="120.45" width="1.60" height="1.10" fill="#f5b40a"/>
<rect x="612.33" y="105.15" width="1.60" height="1.10" fill="#f5b40a"/>
<rect x="612.90" y="125.55" width="1.60" height="1.10" fill="#f5b40a"/>
<rect x="627.30" y="137.45" width="1.60" height="1.10" fill="#f5b40a"/>
<rect x="627.41" y="76.25" width="1.60" height="1.10" fill="#f5b40a"/>
<rect x="630.99" y="140.85" width="1.60" height="1.10" fill="#f5b40a"/>
<rect x="632.54" y="96.65" width="1.60" height="1.10" fill="#f5b40a"/>
<rect x="632.69" y="67.75" width="1.60" height="1.10" fill="#f5b40a"/>
<rect x="634.16" y="134.05" width="1.60" height="1.10" fill="#f5b40a"/>
<rect x="634.44" y="118.75" width="1.60" height="1.10" fill="#f5b40a"/>
<rect x="636.00" y="89.85" width="1.60" height="1.10" fill="#f5b40a"/>
<rect x="638.11" y="130.65" width="1.60" height="1.10" fill="#f5b40a"/>
<rect x="638.16" y="98.35" width="1.60" height="1.10" fill="#f5b40a"/>
<rect x="637.83" y="69.45" width="1.60" height="1.10" fill="#f5b40a"/>
<rect x="639.84" y="123.85" width="1.60" height="1.10" fill="#f5b40a"/>
<rect x="641.67" y="111.95" width="1.60" height="1.10" fill="#f5b40a"/>
<rect x="641.45" y="96.65" width="1.60" height="1.10" fill="#f5b40a"/>
<rect x="641.87" y="110.25" width="1.60" height="1.10" fill="#f5b40a"/>
<rect x="641.95" y="69.45" width="1.60" height="1.10" fill="#f5b40a"/>
<rect x="641.67" y="108.55" width="1.60" height="1.10" fill="#f5b40a"/>
<rect x="647.40" y="139.15" width="1.60" height="1.10" fill="#f5b40a"/>
<rect x="648.93" y="101.75" width="1.60" height="1.10" fill="#f5b40a"/>
<rect x="648.94" y="71.15" width="1.60" height="1.10" fill="#f5b40a"/>
<rect x="649.27" y="120.45" width="1.60" height="1.10" fill="#f5b40a"/>
<rect x="651.06" y="94.95" width="1.60" height="1.10" fill="#f5b40a"/>
<rect x="654.23" y="94.95" width="1.60" height="1.10" fill="#f5b40a"/>
<rect x="663.61" y="132.35" width="1.60" height="1.10" fill="#f5b40a"/>
<rect x="663.48" y="98.35" width="1.60" height="1.10" fill="#f5b40a"/>
<rect x="665.16" y="57.55" width="1.60" height="1.10" fill="#f5b40a"/>
<rect x="665.11" y="123.85" width="1.60" height="1.10" fill="#f5b40a"/>
<line x1="593.80" y1="142.60" x2="666.80" y2="142.60" stroke="#888" stroke-width="1.3" />
<line x1="594.40" y1="142.60" x2="594.40" y2="144.60" stroke="#999" stroke-width="1" />
<line x1="612.60" y1="142.60" x2="612.60" y2="144.60" stroke="#999" stroke-width="1" />
<line x1="630.80" y1="142.60" x2="630.80" y2="144.60" stroke="#999" stroke-width="1" />
<line x1="649.00" y1="142.60" x2="649.00" y2="144.60" stroke="#999" stroke-width="1" />
<line x1="667.20" y1="142.60" x2="667.20" y2="144.60" stroke="#999" stroke-width="1" />
<line x1="590.30" y1="57.80" x2="593.80" y2="57.80" stroke="#999" stroke-width="1" />
<line x1="590.30" y1="99.80" x2="593.80" y2="99.80" stroke="#999" stroke-width="1" />
<line x1="590.30" y1="142.40" x2="593.80" y2="142.40" stroke="#999" stroke-width="1" />
<line x1="593.80" y1="57.40" x2="593.80" y2="143.20" stroke="#777" stroke-width="2.4" />
<rect x="598.14" y="162.55" width="2.07" height="82.45" fill="#ffbf0f"/>
<rect x="599.96" y="217.12" width="2.07" height="27.88" fill="#ffbf0f"/>
<rect x="601.78" y="241.94" width="2.07" height="3.06" fill="#ffbf0f"/>
<rect x="603.60" y="238.54" width="2.07" height="6.46" fill="#ffbf0f"/>
<rect x="605.42" y="243.30" width="2.07" height="1.70" fill="#ffbf0f"/>
<rect x="607.24" y="223.75" width="2.07" height="21.25" fill="#ffbf0f"/>
<rect x="609.06" y="222.05" width="2.07" height="22.95" fill="#ffbf0f"/>
<rect x="612.70" y="241.94" width="2.07" height="3.06" fill="#ffbf0f"/>
<rect x="627.26" y="241.94" width="2.07" height="3.06" fill="#ffbf0f"/>
<rect x="630.90" y="243.81" width="2.07" height="1.19" fill="#ffbf0f"/>
<rect x="632.72" y="241.94" width="2.07" height="3.06" fill="#ffbf0f"/>
<rect x="634.54" y="241.94" width="2.07" height="3.06" fill="#ffbf0f"/>
<rect x="636.36" y="243.81" width="2.07" height="1.19" fill="#ffbf0f"/>
<rect x="638.18" y="240.07" width="2.07" height="4.93" fill="#ffbf0f"/>
<rect x="640.00" y="243.81" width="2.07" height="1.19" fill="#ffbf0f"/>
<rect x="641.82" y="236.67" width="2.07" height="8.33" fill="#ffbf0f"/>
<rect x="647.28" y="243.81" width="2.07" height="1.19" fill="#ffbf0f"/>
<rect x="649.10" y="240.07" width="2.07" height="4.93" fill="#ffbf0f"/>
<rect x="650.92" y="243.81" width="2.07" height="1.19" fill="#ffbf0f"/>
<rect x="654.56" y="243.81" width="2.07" height="1.19" fill="#ffbf0f"/>
<rect x="663.66" y="241.94" width="2.07" height="3.06" fill="#ffbf0f"/>
<rect x="665.48" y="241.94" width="2.07" height="3.06" fill="#ffbf0f"/>
<line x1="593.80" y1="245.20" x2="666.80" y2="245.20" stroke="#888" stroke-width="1.3" />
<line x1="594.40" y1="245.20" x2="594.40" y2="247.20" stroke="#999" stroke-width="1" />
<line x1="612.60" y1="245.20" x2="612.60" y2="247.20" stroke="#999" stroke-width="1" />
<line x1="630.80" y1="245.20" x2="630.80" y2="247.20" stroke="#999" stroke-width="1" />
<line x1="649.00" y1="245.20" x2="649.00" y2="247.20" stroke="#999" stroke-width="1" />
<line x1="667.20" y1="245.20" x2="667.20" y2="247.20" stroke="#999" stroke-width="1" />
<line x1="590.30" y1="160.00" x2="593.80" y2="160.00" stroke="#999" stroke-width="1" />
<line x1="590.30" y1="202.50" x2="593.80" y2="202.50" stroke="#999" stroke-width="1" />
<line x1="590.30" y1="245.00" x2="593.80" y2="245.00" stroke="#999" stroke-width="1" />
<line x1="593.80" y1="159.60" x2="593.80" y2="245.80" stroke="#777" stroke-width="2.4" />
<text x="631.40" y="269.10" font-size="12.4" font-weight="normal" font-style="normal" fill="#222" text-anchor="start" >20 ms</text>
<line x1="632.10" y1="274.20" x2="667.70" y2="274.20" stroke="#777" stroke-width="1.8" />
<text x="6.30" y="26.60" font-size="25" font-weight="bold" font-style="normal" fill="#000" text-anchor="start" >a</text>
<text x="73.60" y="48.30" font-size="15.5" font-weight="bold" font-style="normal" fill="#808080" text-anchor="start" >M1wk</text>
<path d="M152.3,70.5 C163,74.5 175,82 189.3,98.4 C195,105 199,111 202.1,116.7 L168,134.2 C165,126 162,120 157.9,115.8 C152,109 145,104 137,101.5 Z" stroke="none" stroke-width="0" fill="#d9d9d9" />
<path d="M144.8,88.8 C152,90 160,93 166,97 C172,102 178,112 184.1,123.7" stroke="#8a8a8a" stroke-width="0.7" fill="none" />
<path d="M82.4,78 C90,76 96,74.5 101.7,74.5 C106,74.5 110,75.3 113.4,76.3" stroke="#aaa" stroke-width="0.8" fill="none" />
<path d="M62.9,118.9 L62.9,81 C63.5,74 70,68 76,65.8 C86,62 96,60 105.2,59.6 C109,59.5 112,61 116.3,61.7 C125,62.5 138,64.5 152.3,70.5 C165,75.5 180,88 189.3,98.4 C196,106 201,114 204.5,122 C209,133 213,147 214,161 C214.5,172 211.5,184 207.2,193.6" stroke="#808080" stroke-width="1.35" fill="none" />
<path d="M65.5,118.3 C72,117 78,114 80,108 C82,101 83,97 87.7,95 C95,94 105,94.2 112.2,95.5 C120,96.5 128,99 137,101.5 C145,104 152,109 157.9,115.8 C162,120 165,126 168,134.2 C173,145 177,156 179,167 C180.3,176 180.5,186 180.4,194.7" stroke="#7a7a7a" stroke-width="1.15" fill="none" />
<path d="M61.4,124.2 C70,122 77,118 82,112 C87,106 93,101.5 100,100.8 C110,100 123,101 133,105 C143,110 151,118 155,127 C158,134 158,142 154,146 C151,148.5 145,148 140,146.5 C136,144 133,140.5 128,138.5 C122,136.5 114,136.5 107,139 C101,141.5 95,146 87.5,147.6 C80,148.5 72,147 66,145 C62.5,143.5 61,140 61,137" stroke="#777" stroke-width="1.25" fill="none" />
<line x1="76.00" y1="65.80" x2="87.70" y2="95.00" stroke="#222" stroke-width="1.2" />
<line x1="116.50" y1="61.70" x2="112.20" y2="95.50" stroke="#222" stroke-width="1.2" />
<line x1="152.30" y1="70.50" x2="137.00" y2="101.50" stroke="#222" stroke-width="1.2" />
<line x1="168.00" y1="134.20" x2="202.10" y2="116.70" stroke="#222" stroke-width="1.3" />
<path d="M87.5,148.8 C90,153 92,158 92,165 C92,172 90,177 85,181 C81,183 78,184 75.8,183.8" stroke="#999" stroke-width="0.9" fill="none" />
<path d="M133,153.4 C138,155 143,157 146,161 C149,166 148,173 145,178 C141,185 135,189 128,192 C120,195 110,196.5 102.7,196 C97,195.5 93,193.5 90.4,191.4" stroke="#999" stroke-width="0.9" fill="none" />
<path d="M148,163.4 C146,170 143,176 139,181 C134,187 127,192 120.2,194.9" stroke="#aaa" stroke-width="0.8" fill="none" />
<path d="M90.4,147.6 C93,152 95,157 96,165 C97,173 96,179 93,183 C91,186 89,188 86.4,189" stroke="#111" stroke-width="1.1" fill="none" />
<line x1="95.10" y1="159.90" x2="111.50" y2="155.80" stroke="#111" stroke-width="1.1" />
<path d="M116.7,154.6 C120,153 125,151.5 131.9,152.3 C129,155 125,159 123,164 C121,170 119,175 115,180 C111,185 106,187 100,188.5 C96,189.5 93,190.5 91,191.4" stroke="#111" stroke-width="1.1" fill="none" />
<line x1="86.90" y1="168.00" x2="102.10" y2="180.90" stroke="#000" stroke-width="2" />
<text x="49.50" y="174.00" font-size="22.4" font-weight="bold" font-style="normal" fill="#000" text-anchor="start" >Po</text>
<path d="M164.2,34.8 L139.8,45.0 L109.1,166.9 L113.2,167.4 L144.4,47.3 L164.2,38.4 Z" stroke="none" stroke-width="0" fill="#fff" />
<path d="M164.2,34.8 L139.8,45.0 L109.1,166.9" stroke="#666" stroke-width="1.1" fill="none" />
<path d="M164.2,38.4 L144.4,47.3 L113.2,167.4" stroke="#666" stroke-width="1.1" fill="none" />
<ellipse cx="175.6" cy="33" rx="12" ry="15.6" fill="#fff" stroke="#777" stroke-width="1.2"/>
<path d="M168.2,36.3 H171.9 V29.3 H178.1 V36.3 H182.7" stroke="#777" stroke-width="1.2" fill="none" />
<text x="193.30" y="30.40" font-size="15.2" font-weight="normal" font-style="italic" fill="#333" text-anchor="start" >20-80μA</text>
<path d="M184.3,56.8 L187.4,58.7 L170.8,86.2 L166.4,90.4 L168.4,85.0 Z" stroke="none" stroke-width="0" fill="#000" />
<line x1="186.00" y1="57.40" x2="217.60" y2="50.60" stroke="#555" stroke-width="1.1" />
<path d="M217.6,50.6 L235,41.4 L235,60.4 Z" stroke="#666" stroke-width="2" fill="#fff" />
<line x1="235.00" y1="50.60" x2="254.40" y2="50.60" stroke="#666" stroke-width="1.5" />
<line x1="179.90" y1="107.60" x2="203.70" y2="94.20" stroke="#000" stroke-width="2" />
<line x1="232.50" y1="76.40" x2="239.00" y2="72.90" stroke="#000" stroke-width="2" />
<line x1="236.00" y1="67.90" x2="242.00" y2="77.50" stroke="#000" stroke-width="2.5" />
<g transform="translate(217.55,84.3) rotate(-29.4)"><rect x="-16.7" y="-6.7" width="33.4" height="13.4" fill="#fff" stroke="#555" stroke-width="1"/><rect x="-16.2" y="-6.2" width="32.4" height="2.6" fill="#b5b5b5"/></g>
<text x="220.60" y="116.60" font-size="14.6" font-weight="bold" font-style="normal" fill="#000" text-anchor="start" >S1BF</text>
<text x="28.00" y="220.60" font-size="13.6" font-weight="normal" font-style="normal" fill="#222" text-anchor="start" >ISI 50 ms</text>
<text x="135.00" y="220.60" font-size="13.6" font-weight="normal" font-style="normal" fill="#222" text-anchor="start" >3 s</text>
<line x1="28.60" y1="228.60" x2="91.40" y2="228.60" stroke="#8c8c8c" stroke-width="2.2" />
<line x1="95.40" y1="228.60" x2="190.00" y2="228.60" stroke="#d0d0d0" stroke-width="2.2" />
<line x1="195.00" y1="228.60" x2="257.00" y2="228.60" stroke="#8c8c8c" stroke-width="2.2" />
<line x1="8.00" y1="239.60" x2="270.00" y2="239.60" stroke="#111" stroke-width="2.2" />
<line x1="30.00" y1="234.40" x2="30.00" y2="245.00" stroke="#444" stroke-width="1.2" />
<line x1="49.40" y1="234.40" x2="49.40" y2="245.00" stroke="#444" stroke-width="1.2" />
<line x1="69.00" y1="234.40" x2="69.00" y2="245.00" stroke="#444" stroke-width="1.2" />
<line x1="89.40" y1="234.40" x2="89.40" y2="245.00" stroke="#444" stroke-width="1.2" />
<line x1="196.20" y1="234.40" x2="196.20" y2="245.00" stroke="#444" stroke-width="1.2" />
<line x1="215.60" y1="234.40" x2="215.60" y2="245.00" stroke="#444" stroke-width="1.2" />
<line x1="235.40" y1="234.40" x2="235.40" y2="245.00" stroke="#444" stroke-width="1.2" />
<line x1="256.00" y1="234.40" x2="256.00" y2="245.00" stroke="#444" stroke-width="1.2" />
<line x1="141.00" y1="243.60" x2="145.50" y2="234.00" stroke="#222" stroke-width="1.3" />
<line x1="145.00" y1="243.60" x2="149.50" y2="234.00" stroke="#222" stroke-width="1.3" />
<text x="21.70" y="259.60" font-size="11.6" font-weight="normal" font-style="normal" fill="#222" text-anchor="start" >P1</text>
<text x="43.10" y="259.60" font-size="11.6" font-weight="normal" font-style="normal" fill="#222" text-anchor="start" >P2</text>
<text x="64.10" y="259.60" font-size="11.6" font-weight="normal" font-style="normal" fill="#222" text-anchor="start" >P3</text>
<text x="86.10" y="259.60" font-size="11.6" font-weight="normal" font-style="normal" fill="#222" text-anchor="start" >P4</text>
<text x="187.70" y="259.60" font-size="11.6" font-weight="normal" font-style="normal" fill="#222" text-anchor="start" >P1</text>
<text x="209.10" y="259.60" font-size="11.6" font-weight="normal" font-style="normal" fill="#222" text-anchor="start" >P2</text>
<text x="230.50" y="259.60" font-size="11.6" font-weight="normal" font-style="normal" fill="#222" text-anchor="start" >P3</text>
<text x="252.10" y="259.60" font-size="11.6" font-weight="normal" font-style="normal" fill="#222" text-anchor="start" >P4</text>
</svg></body></html>
